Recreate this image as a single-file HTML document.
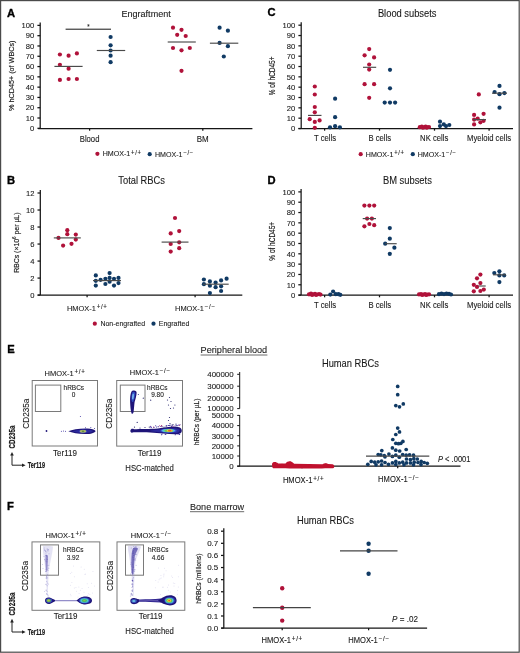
<!DOCTYPE html>
<html><head><meta charset="utf-8"><style>
html,body{margin:0;padding:0;background:#fff;}
svg{display:block;will-change:transform;}
text{font-family:"Liberation Sans", sans-serif;}
</style></head><body>
<svg width="520" height="653" viewBox="0 0 520 653">
<defs><filter id="blur1" x="-50%" y="-10%" width="200%" height="120%"><feGaussianBlur stdDeviation="0.7"/></filter></defs>
<rect x="0" y="0" width="520" height="653" fill="#fff"/>
<text x="6.90" y="16.60" font-size="11.20" text-anchor="start" font-weight="bold" fill="#000" stroke="#000" stroke-width="0.35">A</text>
<text x="121.50" y="16.90" font-size="9.77" text-anchor="start" font-weight="normal" fill="#1a1a1a" stroke="#1a1a1a" stroke-width="0.1" transform="matrix(0.92593,0,0,1,9.000,0)">Engraftment</text>
<line x1="40.20" y1="22.40" x2="40.20" y2="128.30" stroke="#151515" stroke-width="1.25"/>
<line x1="37.40" y1="128.30" x2="40.20" y2="128.30" stroke="#151515" stroke-width="1.25"/>
<text x="34.20" y="131.04" font-size="7.60" text-anchor="end" font-weight="normal" fill="#1a1a1a" stroke="#1a1a1a" stroke-width="0.1">0</text>
<line x1="37.40" y1="118.01" x2="40.20" y2="118.01" stroke="#151515" stroke-width="1.25"/>
<text x="34.20" y="120.75" font-size="7.60" text-anchor="end" font-weight="normal" fill="#1a1a1a" stroke="#1a1a1a" stroke-width="0.1">10</text>
<line x1="37.40" y1="107.72" x2="40.20" y2="107.72" stroke="#151515" stroke-width="1.25"/>
<text x="34.20" y="110.46" font-size="7.60" text-anchor="end" font-weight="normal" fill="#1a1a1a" stroke="#1a1a1a" stroke-width="0.1">20</text>
<line x1="37.40" y1="97.43" x2="40.20" y2="97.43" stroke="#151515" stroke-width="1.25"/>
<text x="34.20" y="100.17" font-size="7.60" text-anchor="end" font-weight="normal" fill="#1a1a1a" stroke="#1a1a1a" stroke-width="0.1">30</text>
<line x1="37.40" y1="87.14" x2="40.20" y2="87.14" stroke="#151515" stroke-width="1.25"/>
<text x="34.20" y="89.88" font-size="7.60" text-anchor="end" font-weight="normal" fill="#1a1a1a" stroke="#1a1a1a" stroke-width="0.1">40</text>
<line x1="37.40" y1="76.85" x2="40.20" y2="76.85" stroke="#151515" stroke-width="1.25"/>
<text x="34.20" y="79.59" font-size="7.60" text-anchor="end" font-weight="normal" fill="#1a1a1a" stroke="#1a1a1a" stroke-width="0.1">50</text>
<line x1="37.40" y1="66.56" x2="40.20" y2="66.56" stroke="#151515" stroke-width="1.25"/>
<text x="34.20" y="69.30" font-size="7.60" text-anchor="end" font-weight="normal" fill="#1a1a1a" stroke="#1a1a1a" stroke-width="0.1">60</text>
<line x1="37.40" y1="56.27" x2="40.20" y2="56.27" stroke="#151515" stroke-width="1.25"/>
<text x="34.20" y="59.01" font-size="7.60" text-anchor="end" font-weight="normal" fill="#1a1a1a" stroke="#1a1a1a" stroke-width="0.1">70</text>
<line x1="37.40" y1="45.98" x2="40.20" y2="45.98" stroke="#151515" stroke-width="1.25"/>
<text x="34.20" y="48.72" font-size="7.60" text-anchor="end" font-weight="normal" fill="#1a1a1a" stroke="#1a1a1a" stroke-width="0.1">80</text>
<line x1="37.40" y1="35.69" x2="40.20" y2="35.69" stroke="#151515" stroke-width="1.25"/>
<text x="34.20" y="38.43" font-size="7.60" text-anchor="end" font-weight="normal" fill="#1a1a1a" stroke="#1a1a1a" stroke-width="0.1">90</text>
<line x1="37.40" y1="25.40" x2="40.20" y2="25.40" stroke="#151515" stroke-width="1.25"/>
<text x="34.20" y="28.14" font-size="7.60" text-anchor="end" font-weight="normal" fill="#1a1a1a" stroke="#1a1a1a" stroke-width="0.1">100</text>
<line x1="38.20" y1="128.50" x2="252.40" y2="128.50" stroke="#151515" stroke-width="1.25"/>
<line x1="89.60" y1="128.50" x2="89.60" y2="130.70" stroke="#151515" stroke-width="1.25"/>
<line x1="202.80" y1="128.50" x2="202.80" y2="130.70" stroke="#151515" stroke-width="1.25"/>
<text x="89.60" y="141.80" font-size="8.32" text-anchor="middle" font-weight="normal" fill="#1a1a1a" stroke="#1a1a1a" stroke-width="0.1" transform="matrix(0.92593,0,0,1,6.637,0)">Blood</text>
<text x="202.70" y="141.60" font-size="8.64" text-anchor="middle" font-weight="normal" fill="#1a1a1a" stroke="#1a1a1a" stroke-width="0.1" transform="matrix(0.92593,0,0,1,15.015,0)">BM</text>
<text x="13.60" y="75.75" font-size="7.80" text-anchor="middle" font-weight="normal" fill="#1a1a1a" stroke="#222" stroke-width="0.18" textLength="70.5" lengthAdjust="spacingAndGlyphs" transform="rotate(-90 13.60 75.75)">% hCD45+ (of WBCs)</text>
<line x1="65.60" y1="29.20" x2="111.00" y2="29.20" stroke="#151515" stroke-width="1.0"/>
<text x="88.50" y="28.60" font-size="6.48" text-anchor="middle" font-weight="normal" fill="#1a1a1a" stroke="#1a1a1a" stroke-width="0.1" transform="matrix(0.92593,0,0,1,6.556,0)">*</text>
<circle cx="59.90" cy="54.50" r="2.1" fill="#b0123a"/>
<circle cx="68.60" cy="55.70" r="2.1" fill="#b0123a"/>
<circle cx="76.90" cy="53.40" r="2.1" fill="#b0123a"/>
<circle cx="59.90" cy="64.80" r="2.1" fill="#b0123a"/>
<circle cx="68.60" cy="68.70" r="2.1" fill="#b0123a"/>
<circle cx="59.90" cy="79.90" r="2.1" fill="#b0123a"/>
<circle cx="68.60" cy="79.00" r="2.1" fill="#b0123a"/>
<circle cx="76.90" cy="79.00" r="2.1" fill="#b0123a"/>
<line x1="54.40" y1="66.40" x2="82.60" y2="66.40" stroke="#4a4a4a" stroke-width="1.15"/>
<circle cx="110.60" cy="37.00" r="2.1" fill="#103a64"/>
<circle cx="110.60" cy="45.30" r="2.1" fill="#103a64"/>
<circle cx="110.60" cy="50.50" r="2.1" fill="#103a64"/>
<circle cx="110.60" cy="55.70" r="2.1" fill="#103a64"/>
<circle cx="110.60" cy="62.20" r="2.1" fill="#103a64"/>
<line x1="96.80" y1="50.50" x2="125.20" y2="50.50" stroke="#4a4a4a" stroke-width="1.15"/>
<circle cx="173.00" cy="27.70" r="2.1" fill="#b0123a"/>
<circle cx="181.50" cy="29.80" r="2.1" fill="#b0123a"/>
<circle cx="177.20" cy="34.80" r="2.1" fill="#b0123a"/>
<circle cx="185.70" cy="36.00" r="2.1" fill="#b0123a"/>
<circle cx="173.00" cy="48.00" r="2.1" fill="#b0123a"/>
<circle cx="181.50" cy="50.30" r="2.1" fill="#b0123a"/>
<circle cx="189.80" cy="48.00" r="2.1" fill="#b0123a"/>
<circle cx="181.50" cy="70.80" r="2.1" fill="#b0123a"/>
<line x1="167.70" y1="42.00" x2="195.80" y2="42.00" stroke="#4a4a4a" stroke-width="1.15"/>
<circle cx="219.60" cy="27.70" r="2.1" fill="#103a64"/>
<circle cx="227.90" cy="30.70" r="2.1" fill="#103a64"/>
<circle cx="219.60" cy="42.90" r="2.1" fill="#103a64"/>
<circle cx="227.90" cy="46.20" r="2.1" fill="#103a64"/>
<circle cx="223.80" cy="56.50" r="2.1" fill="#103a64"/>
<line x1="209.90" y1="43.20" x2="238.30" y2="43.20" stroke="#4a4a4a" stroke-width="1.15"/>
<circle cx="97.40" cy="153.80" r="2.1" fill="#b0123a"/>
<text x="102.70" y="156.40" font-size="7.67" text-anchor="start" font-weight="normal" fill="#1a1a1a" stroke="#1a1a1a" stroke-width="0.1" transform="matrix(0.92593,0,0,1,7.607,0)">HMOX-1<tspan font-size="6.29" dx="0.9" dy="-1.85" letter-spacing="0.75">+/+</tspan></text>
<circle cx="149.70" cy="154.20" r="2.1" fill="#103a64"/>
<text x="155.00" y="156.60" font-size="7.67" text-anchor="start" font-weight="normal" fill="#1a1a1a" stroke="#1a1a1a" stroke-width="0.1" transform="matrix(0.92593,0,0,1,11.481,0)">HMOX-1<tspan font-size="6.29" dx="0.9" dy="-1.85" letter-spacing="0.75">−/−</tspan></text>
<text x="267.60" y="16.30" font-size="11.20" text-anchor="start" font-weight="bold" fill="#000" stroke="#000" stroke-width="0.35">C</text>
<text x="377.90" y="16.90" font-size="10.08" text-anchor="start" font-weight="normal" fill="#1a1a1a" stroke="#1a1a1a" stroke-width="0.1" transform="matrix(0.92593,0,0,1,27.993,0)">Blood subsets</text>
<line x1="301.20" y1="22.20" x2="301.20" y2="128.50" stroke="#151515" stroke-width="1.25"/>
<line x1="298.40" y1="128.50" x2="301.20" y2="128.50" stroke="#151515" stroke-width="1.25"/>
<text x="295.20" y="131.24" font-size="7.60" text-anchor="end" font-weight="normal" fill="#1a1a1a" stroke="#1a1a1a" stroke-width="0.1">0</text>
<line x1="298.40" y1="118.17" x2="301.20" y2="118.17" stroke="#151515" stroke-width="1.25"/>
<text x="295.20" y="120.91" font-size="7.60" text-anchor="end" font-weight="normal" fill="#1a1a1a" stroke="#1a1a1a" stroke-width="0.1">10</text>
<line x1="298.40" y1="107.84" x2="301.20" y2="107.84" stroke="#151515" stroke-width="1.25"/>
<text x="295.20" y="110.58" font-size="7.60" text-anchor="end" font-weight="normal" fill="#1a1a1a" stroke="#1a1a1a" stroke-width="0.1">20</text>
<line x1="298.40" y1="97.51" x2="301.20" y2="97.51" stroke="#151515" stroke-width="1.25"/>
<text x="295.20" y="100.25" font-size="7.60" text-anchor="end" font-weight="normal" fill="#1a1a1a" stroke="#1a1a1a" stroke-width="0.1">30</text>
<line x1="298.40" y1="87.18" x2="301.20" y2="87.18" stroke="#151515" stroke-width="1.25"/>
<text x="295.20" y="89.92" font-size="7.60" text-anchor="end" font-weight="normal" fill="#1a1a1a" stroke="#1a1a1a" stroke-width="0.1">40</text>
<line x1="298.40" y1="76.85" x2="301.20" y2="76.85" stroke="#151515" stroke-width="1.25"/>
<text x="295.20" y="79.59" font-size="7.60" text-anchor="end" font-weight="normal" fill="#1a1a1a" stroke="#1a1a1a" stroke-width="0.1">50</text>
<line x1="298.40" y1="66.52" x2="301.20" y2="66.52" stroke="#151515" stroke-width="1.25"/>
<text x="295.20" y="69.26" font-size="7.60" text-anchor="end" font-weight="normal" fill="#1a1a1a" stroke="#1a1a1a" stroke-width="0.1">60</text>
<line x1="298.40" y1="56.19" x2="301.20" y2="56.19" stroke="#151515" stroke-width="1.25"/>
<text x="295.20" y="58.93" font-size="7.60" text-anchor="end" font-weight="normal" fill="#1a1a1a" stroke="#1a1a1a" stroke-width="0.1">70</text>
<line x1="298.40" y1="45.86" x2="301.20" y2="45.86" stroke="#151515" stroke-width="1.25"/>
<text x="295.20" y="48.60" font-size="7.60" text-anchor="end" font-weight="normal" fill="#1a1a1a" stroke="#1a1a1a" stroke-width="0.1">80</text>
<line x1="298.40" y1="35.53" x2="301.20" y2="35.53" stroke="#151515" stroke-width="1.25"/>
<text x="295.20" y="38.27" font-size="7.60" text-anchor="end" font-weight="normal" fill="#1a1a1a" stroke="#1a1a1a" stroke-width="0.1">90</text>
<line x1="298.40" y1="25.20" x2="301.20" y2="25.20" stroke="#151515" stroke-width="1.25"/>
<text x="295.20" y="27.94" font-size="7.60" text-anchor="end" font-weight="normal" fill="#1a1a1a" stroke="#1a1a1a" stroke-width="0.1">100</text>
<line x1="298.50" y1="128.50" x2="513.00" y2="128.50" stroke="#151515" stroke-width="1.25"/>
<line x1="324.60" y1="128.50" x2="324.60" y2="130.70" stroke="#151515" stroke-width="1.25"/>
<line x1="379.50" y1="128.50" x2="379.50" y2="130.70" stroke="#151515" stroke-width="1.25"/>
<line x1="434.50" y1="128.50" x2="434.50" y2="130.70" stroke="#151515" stroke-width="1.25"/>
<line x1="489.10" y1="128.50" x2="489.10" y2="130.70" stroke="#151515" stroke-width="1.25"/>
<text x="325.00" y="141.50" font-size="8.32" text-anchor="middle" font-weight="normal" fill="#1a1a1a" stroke="#1a1a1a" stroke-width="0.1" transform="matrix(0.92593,0,0,1,24.074,0)">T cells</text>
<text x="379.80" y="141.50" font-size="8.32" text-anchor="middle" font-weight="normal" fill="#1a1a1a" stroke="#1a1a1a" stroke-width="0.1" transform="matrix(0.92593,0,0,1,28.133,0)">B cells</text>
<text x="434.20" y="141.50" font-size="8.32" text-anchor="middle" font-weight="normal" fill="#1a1a1a" stroke="#1a1a1a" stroke-width="0.1" transform="matrix(0.92593,0,0,1,32.163,0)">NK cells</text>
<text x="489.00" y="141.50" font-size="8.32" text-anchor="middle" font-weight="normal" fill="#1a1a1a" stroke="#1a1a1a" stroke-width="0.1" transform="matrix(0.92593,0,0,1,36.222,0)">Myeloid cells</text>
<text x="275.20" y="75.85" font-size="8.30" text-anchor="middle" font-weight="normal" fill="#1a1a1a" stroke="#222" stroke-width="0.18" textLength="38.7" lengthAdjust="spacingAndGlyphs" transform="rotate(-90 275.20 75.85)">% of hCD45+</text>
<circle cx="314.80" cy="86.50" r="2.1" fill="#b0123a"/>
<circle cx="314.80" cy="94.50" r="2.1" fill="#b0123a"/>
<circle cx="314.80" cy="107.00" r="2.1" fill="#b0123a"/>
<circle cx="314.80" cy="112.30" r="2.1" fill="#b0123a"/>
<circle cx="309.70" cy="119.20" r="2.1" fill="#b0123a"/>
<circle cx="319.60" cy="120.40" r="2.1" fill="#b0123a"/>
<circle cx="314.80" cy="121.90" r="2.1" fill="#b0123a"/>
<circle cx="314.80" cy="127.80" r="2.1" fill="#b0123a"/>
<line x1="308.00" y1="115.40" x2="321.50" y2="115.40" stroke="#4a4a4a" stroke-width="1.15"/>
<circle cx="335.10" cy="98.70" r="2.1" fill="#103a64"/>
<circle cx="335.10" cy="117.20" r="2.1" fill="#103a64"/>
<circle cx="330.00" cy="127.30" r="2.1" fill="#103a64"/>
<circle cx="335.10" cy="126.20" r="2.1" fill="#103a64"/>
<circle cx="339.90" cy="127.30" r="2.1" fill="#103a64"/>
<circle cx="369.20" cy="49.10" r="2.1" fill="#b0123a"/>
<circle cx="364.60" cy="55.30" r="2.1" fill="#b0123a"/>
<circle cx="374.10" cy="57.40" r="2.1" fill="#b0123a"/>
<circle cx="369.20" cy="64.50" r="2.1" fill="#b0123a"/>
<circle cx="369.20" cy="69.60" r="2.1" fill="#b0123a"/>
<circle cx="364.60" cy="84.20" r="2.1" fill="#b0123a"/>
<circle cx="374.10" cy="84.20" r="2.1" fill="#b0123a"/>
<circle cx="369.20" cy="97.80" r="2.1" fill="#b0123a"/>
<line x1="363.00" y1="67.30" x2="376.20" y2="67.30" stroke="#4a4a4a" stroke-width="1.15"/>
<circle cx="390.00" cy="69.80" r="2.1" fill="#103a64"/>
<circle cx="390.00" cy="88.30" r="2.1" fill="#103a64"/>
<circle cx="384.70" cy="102.60" r="2.1" fill="#103a64"/>
<circle cx="390.00" cy="102.60" r="2.1" fill="#103a64"/>
<circle cx="395.10" cy="102.60" r="2.1" fill="#103a64"/>
<circle cx="419.80" cy="127.20" r="2.1" fill="#b0123a"/>
<circle cx="421.80" cy="126.60" r="2.1" fill="#b0123a"/>
<circle cx="423.80" cy="127.40" r="2.1" fill="#b0123a"/>
<circle cx="425.60" cy="126.70" r="2.1" fill="#b0123a"/>
<circle cx="427.40" cy="127.30" r="2.1" fill="#b0123a"/>
<circle cx="429.00" cy="127.00" r="2.1" fill="#b0123a"/>
<circle cx="422.60" cy="127.60" r="2.1" fill="#b0123a"/>
<circle cx="426.50" cy="127.60" r="2.1" fill="#b0123a"/>
<circle cx="440.00" cy="121.70" r="2.1" fill="#103a64"/>
<circle cx="440.00" cy="126.10" r="2.1" fill="#103a64"/>
<circle cx="443.80" cy="124.40" r="2.1" fill="#103a64"/>
<circle cx="446.00" cy="126.10" r="2.1" fill="#103a64"/>
<circle cx="449.30" cy="125.00" r="2.1" fill="#103a64"/>
<circle cx="478.80" cy="94.40" r="2.1" fill="#b0123a"/>
<circle cx="474.10" cy="114.90" r="2.1" fill="#b0123a"/>
<circle cx="483.60" cy="113.80" r="2.1" fill="#b0123a"/>
<circle cx="474.10" cy="119.60" r="2.1" fill="#b0123a"/>
<circle cx="477.70" cy="118.70" r="2.1" fill="#b0123a"/>
<circle cx="483.60" cy="120.80" r="2.1" fill="#b0123a"/>
<circle cx="480.40" cy="122.30" r="2.1" fill="#b0123a"/>
<circle cx="474.10" cy="124.40" r="2.1" fill="#b0123a"/>
<line x1="473.00" y1="119.60" x2="486.00" y2="119.60" stroke="#4a4a4a" stroke-width="1.15"/>
<circle cx="499.50" cy="85.90" r="2.1" fill="#103a64"/>
<circle cx="494.60" cy="92.00" r="2.1" fill="#103a64"/>
<circle cx="499.50" cy="94.20" r="2.1" fill="#103a64"/>
<circle cx="504.40" cy="93.10" r="2.1" fill="#103a64"/>
<circle cx="499.50" cy="107.70" r="2.1" fill="#103a64"/>
<line x1="492.00" y1="93.20" x2="507.00" y2="93.20" stroke="#4a4a4a" stroke-width="1.15"/>
<circle cx="360.70" cy="154.20" r="2.1" fill="#b0123a"/>
<text x="365.80" y="156.60" font-size="7.67" text-anchor="start" font-weight="normal" fill="#1a1a1a" stroke="#1a1a1a" stroke-width="0.1" transform="matrix(0.92593,0,0,1,27.096,0)">HMOX-1<tspan font-size="6.29" dx="0.9" dy="-1.85" letter-spacing="0.75">+/+</tspan></text>
<circle cx="412.80" cy="154.20" r="2.1" fill="#103a64"/>
<text x="417.70" y="156.60" font-size="7.67" text-anchor="start" font-weight="normal" fill="#1a1a1a" stroke="#1a1a1a" stroke-width="0.1" transform="matrix(0.92593,0,0,1,30.941,0)">HMOX-1<tspan font-size="6.29" dx="0.9" dy="-1.85" letter-spacing="0.75">−/−</tspan></text>
<text x="6.90" y="183.60" font-size="11.20" text-anchor="start" font-weight="bold" fill="#000" stroke="#000" stroke-width="0.35">B</text>
<text x="118.30" y="184.00" font-size="10.09" text-anchor="start" font-weight="normal" fill="#1a1a1a" stroke="#1a1a1a" stroke-width="0.1" transform="matrix(0.92593,0,0,1,8.763,0)">Total RBCs</text>
<line x1="40.30" y1="190.00" x2="40.30" y2="295.10" stroke="#151515" stroke-width="1.25"/>
<line x1="37.50" y1="295.10" x2="40.30" y2="295.10" stroke="#151515" stroke-width="1.25"/>
<text x="34.50" y="297.84" font-size="7.60" text-anchor="end" font-weight="normal" fill="#1a1a1a" stroke="#1a1a1a" stroke-width="0.1">0</text>
<line x1="37.50" y1="278.08" x2="40.30" y2="278.08" stroke="#151515" stroke-width="1.25"/>
<text x="34.50" y="280.82" font-size="7.60" text-anchor="end" font-weight="normal" fill="#1a1a1a" stroke="#1a1a1a" stroke-width="0.1">2</text>
<line x1="37.50" y1="261.07" x2="40.30" y2="261.07" stroke="#151515" stroke-width="1.25"/>
<text x="34.50" y="263.80" font-size="7.60" text-anchor="end" font-weight="normal" fill="#1a1a1a" stroke="#1a1a1a" stroke-width="0.1">4</text>
<line x1="37.50" y1="244.05" x2="40.30" y2="244.05" stroke="#151515" stroke-width="1.25"/>
<text x="34.50" y="246.79" font-size="7.60" text-anchor="end" font-weight="normal" fill="#1a1a1a" stroke="#1a1a1a" stroke-width="0.1">6</text>
<line x1="37.50" y1="227.03" x2="40.30" y2="227.03" stroke="#151515" stroke-width="1.25"/>
<text x="34.50" y="229.77" font-size="7.60" text-anchor="end" font-weight="normal" fill="#1a1a1a" stroke="#1a1a1a" stroke-width="0.1">8</text>
<line x1="37.50" y1="210.02" x2="40.30" y2="210.02" stroke="#151515" stroke-width="1.25"/>
<text x="34.50" y="212.75" font-size="7.60" text-anchor="end" font-weight="normal" fill="#1a1a1a" stroke="#1a1a1a" stroke-width="0.1">10</text>
<line x1="37.50" y1="193.00" x2="40.30" y2="193.00" stroke="#151515" stroke-width="1.25"/>
<text x="34.50" y="195.74" font-size="7.60" text-anchor="end" font-weight="normal" fill="#1a1a1a" stroke="#1a1a1a" stroke-width="0.1">12</text>
<line x1="37.70" y1="295.10" x2="242.30" y2="295.10" stroke="#151515" stroke-width="1.25"/>
<line x1="87.10" y1="295.10" x2="87.10" y2="297.30" stroke="#151515" stroke-width="1.25"/>
<line x1="195.10" y1="295.10" x2="195.10" y2="297.30" stroke="#151515" stroke-width="1.25"/>
<text x="66.90" y="311.20" font-size="8.05" text-anchor="start" font-weight="normal" fill="#1a1a1a" stroke="#1a1a1a" stroke-width="0.1" transform="matrix(0.92593,0,0,1,4.956,0)">HMOX-1<tspan font-size="6.60" dx="0.9" dy="-1.94" letter-spacing="0.75">+/+</tspan></text>
<text x="175.00" y="311.20" font-size="8.05" text-anchor="start" font-weight="normal" fill="#1a1a1a" stroke="#1a1a1a" stroke-width="0.1" transform="matrix(0.92593,0,0,1,12.963,0)">HMOX-1<tspan font-size="6.60" dx="0.9" dy="-1.94" letter-spacing="0.75">−/−</tspan></text>
<text x="18.60" y="242.65" font-size="7.90" text-anchor="middle" font-weight="normal" fill="#1a1a1a" stroke="#222" stroke-width="0.18" textLength="60.3" lengthAdjust="spacingAndGlyphs" transform="rotate(-90 18.60 242.65)">RBCs (×10<tspan font-size="5.2" dy="-2.8">6</tspan><tspan dy="2.8"> per µL)</tspan></text>
<circle cx="67.30" cy="230.20" r="2.1" fill="#b0123a"/>
<circle cx="67.30" cy="234.20" r="2.1" fill="#b0123a"/>
<circle cx="58.50" cy="237.90" r="2.1" fill="#b0123a"/>
<circle cx="75.80" cy="234.60" r="2.1" fill="#b0123a"/>
<circle cx="75.80" cy="239.60" r="2.1" fill="#b0123a"/>
<circle cx="63.10" cy="245.60" r="2.1" fill="#b0123a"/>
<circle cx="71.50" cy="243.80" r="2.1" fill="#b0123a"/>
<line x1="53.80" y1="237.90" x2="80.80" y2="237.90" stroke="#4a4a4a" stroke-width="1.15"/>
<circle cx="95.80" cy="275.40" r="2.1" fill="#103a64"/>
<circle cx="95.80" cy="280.80" r="2.1" fill="#103a64"/>
<circle cx="95.80" cy="285.60" r="2.1" fill="#103a64"/>
<circle cx="100.60" cy="279.80" r="2.1" fill="#103a64"/>
<circle cx="105.40" cy="278.80" r="2.1" fill="#103a64"/>
<circle cx="105.40" cy="284.00" r="2.1" fill="#103a64"/>
<circle cx="109.60" cy="273.10" r="2.1" fill="#103a64"/>
<circle cx="109.60" cy="277.90" r="2.1" fill="#103a64"/>
<circle cx="109.60" cy="281.70" r="2.1" fill="#103a64"/>
<circle cx="114.00" cy="278.80" r="2.1" fill="#103a64"/>
<circle cx="114.00" cy="285.60" r="2.1" fill="#103a64"/>
<circle cx="118.50" cy="277.90" r="2.1" fill="#103a64"/>
<circle cx="118.50" cy="283.10" r="2.1" fill="#103a64"/>
<line x1="93.00" y1="280.60" x2="121.00" y2="280.60" stroke="#4a4a4a" stroke-width="1.15"/>
<circle cx="175.00" cy="218.00" r="2.1" fill="#b0123a"/>
<circle cx="170.70" cy="233.40" r="2.1" fill="#b0123a"/>
<circle cx="179.20" cy="231.10" r="2.1" fill="#b0123a"/>
<circle cx="170.70" cy="244.00" r="2.1" fill="#b0123a"/>
<circle cx="179.20" cy="242.30" r="2.1" fill="#b0123a"/>
<circle cx="170.70" cy="251.60" r="2.1" fill="#b0123a"/>
<circle cx="179.20" cy="248.20" r="2.1" fill="#b0123a"/>
<line x1="161.60" y1="242.10" x2="188.50" y2="242.10" stroke="#4a4a4a" stroke-width="1.15"/>
<circle cx="203.90" cy="279.50" r="2.1" fill="#103a64"/>
<circle cx="203.90" cy="284.20" r="2.1" fill="#103a64"/>
<circle cx="209.90" cy="281.40" r="2.1" fill="#103a64"/>
<circle cx="209.90" cy="285.70" r="2.1" fill="#103a64"/>
<circle cx="209.90" cy="293.10" r="2.1" fill="#103a64"/>
<circle cx="215.60" cy="282.50" r="2.1" fill="#103a64"/>
<circle cx="215.60" cy="287.20" r="2.1" fill="#103a64"/>
<circle cx="221.10" cy="280.40" r="2.1" fill="#103a64"/>
<circle cx="221.10" cy="286.30" r="2.1" fill="#103a64"/>
<circle cx="221.10" cy="291.00" r="2.1" fill="#103a64"/>
<circle cx="226.60" cy="278.70" r="2.1" fill="#103a64"/>
<line x1="202.90" y1="284.20" x2="228.70" y2="284.20" stroke="#4a4a4a" stroke-width="1.15"/>
<circle cx="94.80" cy="323.70" r="2.1" fill="#b0123a"/>
<text x="100.40" y="326.10" font-size="7.56" text-anchor="start" font-weight="normal" fill="#1a1a1a" stroke="#1a1a1a" stroke-width="0.1" transform="matrix(0.92593,0,0,1,7.437,0)">Non-engrafted</text>
<circle cx="153.50" cy="323.70" r="2.1" fill="#103a64"/>
<text x="158.70" y="326.10" font-size="7.65" text-anchor="start" font-weight="normal" fill="#1a1a1a" stroke="#1a1a1a" stroke-width="0.1" transform="matrix(0.92593,0,0,1,11.756,0)">Engrafted</text>
<text x="267.60" y="183.60" font-size="11.20" text-anchor="start" font-weight="bold" fill="#000" stroke="#000" stroke-width="0.35">D</text>
<text x="382.90" y="184.20" font-size="10.13" text-anchor="start" font-weight="normal" fill="#1a1a1a" stroke="#1a1a1a" stroke-width="0.1" transform="matrix(0.92593,0,0,1,28.363,0)">BM subsets</text>
<line x1="301.10" y1="188.90" x2="301.10" y2="295.10" stroke="#151515" stroke-width="1.25"/>
<line x1="298.30" y1="295.10" x2="301.10" y2="295.10" stroke="#151515" stroke-width="1.25"/>
<text x="295.20" y="297.84" font-size="7.60" text-anchor="end" font-weight="normal" fill="#1a1a1a" stroke="#1a1a1a" stroke-width="0.1">0</text>
<line x1="298.30" y1="284.78" x2="301.10" y2="284.78" stroke="#151515" stroke-width="1.25"/>
<text x="295.20" y="287.52" font-size="7.60" text-anchor="end" font-weight="normal" fill="#1a1a1a" stroke="#1a1a1a" stroke-width="0.1">10</text>
<line x1="298.30" y1="274.46" x2="301.10" y2="274.46" stroke="#151515" stroke-width="1.25"/>
<text x="295.20" y="277.20" font-size="7.60" text-anchor="end" font-weight="normal" fill="#1a1a1a" stroke="#1a1a1a" stroke-width="0.1">20</text>
<line x1="298.30" y1="264.14" x2="301.10" y2="264.14" stroke="#151515" stroke-width="1.25"/>
<text x="295.20" y="266.88" font-size="7.60" text-anchor="end" font-weight="normal" fill="#1a1a1a" stroke="#1a1a1a" stroke-width="0.1">30</text>
<line x1="298.30" y1="253.82" x2="301.10" y2="253.82" stroke="#151515" stroke-width="1.25"/>
<text x="295.20" y="256.56" font-size="7.60" text-anchor="end" font-weight="normal" fill="#1a1a1a" stroke="#1a1a1a" stroke-width="0.1">40</text>
<line x1="298.30" y1="243.50" x2="301.10" y2="243.50" stroke="#151515" stroke-width="1.25"/>
<text x="295.20" y="246.24" font-size="7.60" text-anchor="end" font-weight="normal" fill="#1a1a1a" stroke="#1a1a1a" stroke-width="0.1">50</text>
<line x1="298.30" y1="233.18" x2="301.10" y2="233.18" stroke="#151515" stroke-width="1.25"/>
<text x="295.20" y="235.92" font-size="7.60" text-anchor="end" font-weight="normal" fill="#1a1a1a" stroke="#1a1a1a" stroke-width="0.1">60</text>
<line x1="298.30" y1="222.86" x2="301.10" y2="222.86" stroke="#151515" stroke-width="1.25"/>
<text x="295.20" y="225.60" font-size="7.60" text-anchor="end" font-weight="normal" fill="#1a1a1a" stroke="#1a1a1a" stroke-width="0.1">70</text>
<line x1="298.30" y1="212.54" x2="301.10" y2="212.54" stroke="#151515" stroke-width="1.25"/>
<text x="295.20" y="215.28" font-size="7.60" text-anchor="end" font-weight="normal" fill="#1a1a1a" stroke="#1a1a1a" stroke-width="0.1">80</text>
<line x1="298.30" y1="202.22" x2="301.10" y2="202.22" stroke="#151515" stroke-width="1.25"/>
<text x="295.20" y="204.96" font-size="7.60" text-anchor="end" font-weight="normal" fill="#1a1a1a" stroke="#1a1a1a" stroke-width="0.1">90</text>
<line x1="298.30" y1="191.90" x2="301.10" y2="191.90" stroke="#151515" stroke-width="1.25"/>
<text x="295.20" y="194.64" font-size="7.60" text-anchor="end" font-weight="normal" fill="#1a1a1a" stroke="#1a1a1a" stroke-width="0.1">100</text>
<line x1="298.50" y1="295.10" x2="513.00" y2="295.10" stroke="#151515" stroke-width="1.25"/>
<line x1="324.60" y1="295.10" x2="324.60" y2="297.30" stroke="#151515" stroke-width="1.25"/>
<line x1="379.50" y1="295.10" x2="379.50" y2="297.30" stroke="#151515" stroke-width="1.25"/>
<line x1="434.50" y1="295.10" x2="434.50" y2="297.30" stroke="#151515" stroke-width="1.25"/>
<line x1="489.10" y1="295.10" x2="489.10" y2="297.30" stroke="#151515" stroke-width="1.25"/>
<text x="325.00" y="308.20" font-size="8.32" text-anchor="middle" font-weight="normal" fill="#1a1a1a" stroke="#1a1a1a" stroke-width="0.1" transform="matrix(0.92593,0,0,1,24.074,0)">T cells</text>
<text x="379.80" y="308.20" font-size="8.32" text-anchor="middle" font-weight="normal" fill="#1a1a1a" stroke="#1a1a1a" stroke-width="0.1" transform="matrix(0.92593,0,0,1,28.133,0)">B cells</text>
<text x="434.20" y="308.20" font-size="8.32" text-anchor="middle" font-weight="normal" fill="#1a1a1a" stroke="#1a1a1a" stroke-width="0.1" transform="matrix(0.92593,0,0,1,32.163,0)">NK cells</text>
<text x="489.00" y="308.20" font-size="8.32" text-anchor="middle" font-weight="normal" fill="#1a1a1a" stroke="#1a1a1a" stroke-width="0.1" transform="matrix(0.92593,0,0,1,36.222,0)">Myeloid cells</text>
<text x="275.20" y="241.30" font-size="8.30" text-anchor="middle" font-weight="normal" fill="#1a1a1a" stroke="#222" stroke-width="0.18" textLength="38.7" lengthAdjust="spacingAndGlyphs" transform="rotate(-90 275.20 241.30)">% of hCD45+</text>
<circle cx="309.00" cy="294.30" r="2.1" fill="#b0123a"/>
<circle cx="311.00" cy="293.60" r="2.1" fill="#b0123a"/>
<circle cx="313.00" cy="294.40" r="2.1" fill="#b0123a"/>
<circle cx="315.00" cy="293.80" r="2.1" fill="#b0123a"/>
<circle cx="317.00" cy="294.50" r="2.1" fill="#b0123a"/>
<circle cx="319.00" cy="294.10" r="2.1" fill="#b0123a"/>
<circle cx="320.50" cy="294.60" r="2.1" fill="#b0123a"/>
<circle cx="312.00" cy="295.00" r="2.1" fill="#b0123a"/>
<circle cx="316.00" cy="295.00" r="2.1" fill="#b0123a"/>
<circle cx="330.30" cy="294.60" r="2.1" fill="#103a64"/>
<circle cx="333.10" cy="291.50" r="2.1" fill="#103a64"/>
<circle cx="335.80" cy="294.20" r="2.1" fill="#103a64"/>
<circle cx="338.50" cy="294.20" r="2.1" fill="#103a64"/>
<circle cx="340.30" cy="294.80" r="2.1" fill="#103a64"/>
<circle cx="364.40" cy="205.60" r="2.1" fill="#b0123a"/>
<circle cx="369.40" cy="205.60" r="2.1" fill="#b0123a"/>
<circle cx="374.20" cy="205.60" r="2.1" fill="#b0123a"/>
<circle cx="367.10" cy="218.60" r="2.1" fill="#b0123a"/>
<circle cx="371.90" cy="218.60" r="2.1" fill="#b0123a"/>
<circle cx="364.40" cy="226.30" r="2.1" fill="#b0123a"/>
<circle cx="369.40" cy="224.00" r="2.1" fill="#b0123a"/>
<circle cx="374.20" cy="225.20" r="2.1" fill="#b0123a"/>
<line x1="362.70" y1="218.60" x2="376.00" y2="218.60" stroke="#4a4a4a" stroke-width="1.15"/>
<circle cx="389.80" cy="228.10" r="2.1" fill="#103a64"/>
<circle cx="389.80" cy="238.70" r="2.1" fill="#103a64"/>
<circle cx="385.20" cy="243.70" r="2.1" fill="#103a64"/>
<circle cx="394.40" cy="247.70" r="2.1" fill="#103a64"/>
<circle cx="389.80" cy="253.80" r="2.1" fill="#103a64"/>
<line x1="385.20" y1="243.70" x2="396.70" y2="243.70" stroke="#4a4a4a" stroke-width="1.15"/>
<circle cx="419.00" cy="294.40" r="2.1" fill="#b0123a"/>
<circle cx="421.00" cy="294.00" r="2.1" fill="#b0123a"/>
<circle cx="423.00" cy="294.60" r="2.1" fill="#b0123a"/>
<circle cx="425.00" cy="294.10" r="2.1" fill="#b0123a"/>
<circle cx="427.00" cy="294.60" r="2.1" fill="#b0123a"/>
<circle cx="429.00" cy="294.30" r="2.1" fill="#b0123a"/>
<circle cx="422.00" cy="295.00" r="2.1" fill="#b0123a"/>
<circle cx="426.00" cy="295.00" r="2.1" fill="#b0123a"/>
<circle cx="439.00" cy="294.20" r="2.1" fill="#103a64"/>
<circle cx="441.50" cy="293.60" r="2.1" fill="#103a64"/>
<circle cx="444.00" cy="294.10" r="2.1" fill="#103a64"/>
<circle cx="446.50" cy="293.50" r="2.1" fill="#103a64"/>
<circle cx="449.00" cy="293.90" r="2.1" fill="#103a64"/>
<circle cx="451.00" cy="294.50" r="2.1" fill="#103a64"/>
<circle cx="480.40" cy="274.60" r="2.1" fill="#b0123a"/>
<circle cx="477.00" cy="278.30" r="2.1" fill="#b0123a"/>
<circle cx="480.40" cy="283.10" r="2.1" fill="#b0123a"/>
<circle cx="473.80" cy="284.80" r="2.1" fill="#b0123a"/>
<circle cx="477.00" cy="286.90" r="2.1" fill="#b0123a"/>
<circle cx="483.80" cy="289.60" r="2.1" fill="#b0123a"/>
<circle cx="473.80" cy="291.30" r="2.1" fill="#b0123a"/>
<circle cx="480.40" cy="291.00" r="2.1" fill="#b0123a"/>
<line x1="478.50" y1="286.00" x2="485.70" y2="286.00" stroke="#4a4a4a" stroke-width="1.15"/>
<circle cx="494.30" cy="273.00" r="2.1" fill="#103a64"/>
<circle cx="499.40" cy="271.30" r="2.1" fill="#103a64"/>
<circle cx="499.40" cy="275.40" r="2.1" fill="#103a64"/>
<circle cx="504.20" cy="275.40" r="2.1" fill="#103a64"/>
<circle cx="499.40" cy="282.10" r="2.1" fill="#103a64"/>
<line x1="493.00" y1="274.80" x2="506.00" y2="274.80" stroke="#4a4a4a" stroke-width="1.15"/>
<text x="7.20" y="352.80" font-size="11.20" text-anchor="start" font-weight="bold" fill="#000" stroke="#000" stroke-width="0.35">E</text>
<text x="44.60" y="375.80" font-size="8.10" text-anchor="start" font-weight="normal" fill="#1a1a1a" stroke="#1a1a1a" stroke-width="0.1" transform="matrix(0.92593,0,0,1,3.304,0)">HMOX-1<tspan font-size="6.64" dx="0.9" dy="-1.95" letter-spacing="0.75">+/+</tspan></text>
<rect x="32.20" y="380.50" width="65.30" height="65.50" fill="none" stroke="#7a7a7a" stroke-width="1.0"/>
<rect x="35.40" y="385.10" width="25.40" height="26.40" fill="none" stroke="#7a7a7a" stroke-width="1.0"/>
<text x="73.80" y="389.90" font-size="7.02" text-anchor="middle" font-weight="normal" fill="#1a1a1a" stroke="#1a1a1a" stroke-width="0.1" transform="matrix(0.92593,0,0,1,5.467,0)">hRBCs</text>
<text x="73.60" y="397.30" font-size="7.02" text-anchor="middle" font-weight="normal" fill="#1a1a1a" stroke="#1a1a1a" stroke-width="0.1" transform="matrix(0.92593,0,0,1,5.452,0)">0</text>
<text x="28.60" y="413.60" font-size="8.20" text-anchor="middle" font-weight="normal" fill="#1a1a1a" stroke="#1a1a1a" stroke-width="0.1" transform="rotate(-90 28.60 413.60)">CD235a</text>
<text x="65.00" y="456.20" font-size="8.64" text-anchor="middle" font-weight="normal" fill="#1a1a1a" stroke="#1a1a1a" stroke-width="0.1" transform="matrix(0.92593,0,0,1,4.815,0)">Ter119</text>
<path d="M68.3,431.3 C72,429.8 78,428.6 86,428.5 C91,428.3 94.5,429.3 95.6,430.9 C95,432.8 91,434.1 85,434.1 C78,434 72,432.9 68.3,431.3 Z" fill="#1e1478" fill-opacity="1.0" stroke="none" stroke-width="0"/>
<path d="M72,431.2 C76,430.2 81,429.5 86,429.5 C90,429.6 92.5,430.3 93.2,431.0 C92.5,432.2 89.5,433.0 85,433.0 C79,433 75,432.2 72,431.2 Z" fill="#2c2a9e" fill-opacity="1.0" stroke="none" stroke-width="0"/>
<ellipse cx="83.00" cy="431.30" rx="3.80" ry="1.60" fill="#4a5ab8" fill-opacity="1.0" transform="rotate(0 83.00 431.30)"/>
<ellipse cx="83.00" cy="431.30" rx="3.20" ry="1.25" fill="#b8c060" fill-opacity="1.0" transform="rotate(0 83.00 431.30)"/>
<ellipse cx="83.00" cy="431.30" rx="1.40" ry="0.70" fill="#5a8a40" fill-opacity="1.0" transform="rotate(0 83.00 431.30)"/>
<circle cx="46.50" cy="431.00" r="0.9" fill="#1e1478"/>
<circle cx="61.40" cy="431.30" r="0.5" fill="#3a30a0"/>
<circle cx="63.50" cy="431.00" r="0.5" fill="#3a30a0"/>
<circle cx="65.50" cy="431.20" r="0.5" fill="#3a30a0"/>
<circle cx="80.40" cy="416.40" r="0.5" fill="#3a30a0"/>
<circle cx="85.50" cy="427.80" r="0.5" fill="#3a30a0"/>
<circle cx="90.80" cy="427.40" r="0.5" fill="#3a30a0"/>
<circle cx="94.50" cy="428.40" r="0.5" fill="#3a30a0"/>
<text x="129.80" y="374.80" font-size="8.10" text-anchor="start" font-weight="normal" fill="#1a1a1a" stroke="#1a1a1a" stroke-width="0.1" transform="matrix(0.92593,0,0,1,9.615,0)">HMOX-1<tspan font-size="6.64" dx="0.9" dy="-1.95" letter-spacing="0.75">−/−</tspan></text>
<rect x="116.70" y="380.50" width="65.80" height="65.60" fill="none" stroke="#7a7a7a" stroke-width="1.0"/>
<rect x="120.30" y="385.10" width="24.70" height="26.40" fill="none" stroke="#7a7a7a" stroke-width="1.0"/>
<text x="157.30" y="390.30" font-size="7.02" text-anchor="middle" font-weight="normal" fill="#1a1a1a" stroke="#1a1a1a" stroke-width="0.1" transform="matrix(0.92593,0,0,1,11.652,0)">hRBCs</text>
<text x="157.50" y="397.30" font-size="7.02" text-anchor="middle" font-weight="normal" fill="#1a1a1a" stroke="#1a1a1a" stroke-width="0.1" transform="matrix(0.92593,0,0,1,11.667,0)">9.80</text>
<text x="112.30" y="413.60" font-size="8.20" text-anchor="middle" font-weight="normal" fill="#1a1a1a" stroke="#1a1a1a" stroke-width="0.1" transform="rotate(-90 112.30 413.60)">CD235a</text>
<text x="149.60" y="455.70" font-size="8.64" text-anchor="middle" font-weight="normal" fill="#1a1a1a" stroke="#1a1a1a" stroke-width="0.1" transform="matrix(0.92593,0,0,1,11.081,0)">Ter119</text>
<text x="149.60" y="471.20" font-size="8.37" text-anchor="middle" font-weight="normal" fill="#1a1a1a" stroke="#1a1a1a" stroke-width="0.1" transform="matrix(0.92593,0,0,1,11.081,0)">HSC-matched</text>
<path d="M133.2,390.5 C135.5,390.2 136.8,391.2 136.6,393 C136.4,396 135.6,399 134.6,402 C134.2,405 134.0,409 133.6,412 C133.2,413.6 132.2,414.2 131.6,413.4 C130.6,411 130.3,406 130.1,402 C129.9,398 130.4,394 131.5,391.6 C132,390.9 132.6,390.6 133.2,390.5 Z" fill="#1e1478" fill-opacity="1.0" stroke="none" stroke-width="0"/>
<path d="M133.4,391.8 C134.9,391.8 135.5,392.8 135.2,394.5 C134.8,397 134.2,399.5 133.4,401.5 C132.8,402.5 131.9,402 131.6,400.5 C131.3,398 131.6,395 132.1,393 C132.4,392.2 132.9,391.8 133.4,391.8 Z" fill="#2f4ec0" fill-opacity="1.0" stroke="none" stroke-width="0"/>
<ellipse cx="133.00" cy="396.50" rx="0.90" ry="2.90" fill="#78b8f0" fill-opacity="1" transform="rotate(6 133.00 396.50)"/>
<circle cx="138.30" cy="394.50" r="0.5" fill="#1e1478"/>
<path d="M130.4,430.6 C130.8,428.6 132.5,428.5 134,429.2 C140,429.0 150,429.0 158,428.5 C165,427.0 172,426.6 178,426.9 C181,427.3 182,429.2 181.8,430.8 C181.8,432.8 180,434.2 176,434.2 C168,434.3 160,433.0 150,432.4 C142,432.2 136,432.2 133.5,432.3 C131.5,433.2 130.2,432.5 130.4,430.6 Z" fill="#1e1478" fill-opacity="1.0" stroke="none" stroke-width="0"/>
<path d="M150,430.7 C156,430.0 162,428.8 168,428.3 C173,428.0 177.5,428.2 179.5,429.6 C180.4,430.8 179.6,432.3 177,432.9 C171,433.3 164,432.8 158,432.0 C154,431.6 151,431.3 150,430.7 Z" fill="#2c2a9e" fill-opacity="1.0" stroke="none" stroke-width="0"/>
<ellipse cx="168.50" cy="430.70" rx="8.20" ry="2.00" fill="#3a5ad0" fill-opacity="1.0" transform="rotate(0 168.50 430.70)"/>
<ellipse cx="168.30" cy="430.70" rx="6.80" ry="1.60" fill="#5fb0ea" fill-opacity="1.0" transform="rotate(0 168.30 430.70)"/>
<ellipse cx="168.20" cy="430.70" rx="5.60" ry="1.40" fill="#4fd0c8" fill-opacity="1.0" transform="rotate(0 168.20 430.70)"/>
<ellipse cx="168.80" cy="430.70" rx="4.40" ry="1.25" fill="#7cc850" fill-opacity="1.0" transform="rotate(0 168.80 430.70)"/>
<ellipse cx="169.60" cy="430.70" rx="3.00" ry="1.10" fill="#e8d840" fill-opacity="1.0" transform="rotate(0 169.60 430.70)"/>
<ellipse cx="169.80" cy="430.70" rx="1.80" ry="0.90" fill="#e86a20" fill-opacity="1.0" transform="rotate(0 169.80 430.70)"/>
<circle cx="169.50" cy="397.50" r="0.6" fill="#2a2870"/>
<circle cx="167.50" cy="400.00" r="0.6" fill="#2a2870"/>
<circle cx="171.00" cy="401.50" r="0.6" fill="#2a2870"/>
<circle cx="174.90" cy="405.00" r="0.6" fill="#2a2870"/>
<circle cx="168.50" cy="405.00" r="0.6" fill="#2a2870"/>
<circle cx="170.50" cy="408.50" r="0.6" fill="#2a2870"/>
<circle cx="173.50" cy="408.00" r="0.6" fill="#2a2870"/>
<circle cx="169.50" cy="417.50" r="0.6" fill="#2a2870"/>
<circle cx="168.50" cy="420.50" r="0.6" fill="#2a2870"/>
<circle cx="170.00" cy="423.50" r="0.6" fill="#2a2870"/>
<circle cx="172.00" cy="425.00" r="0.6" fill="#2a2870"/>
<circle cx="175.00" cy="426.00" r="0.6" fill="#2a2870"/>
<circle cx="166.00" cy="426.00" r="0.6" fill="#2a2870"/>
<circle cx="150.70" cy="400.20" r="0.6" fill="#2a2870"/>
<circle cx="143.30" cy="398.20" r="0.6" fill="#2a2870"/>
<circle cx="137.20" cy="422.40" r="0.6" fill="#2a2870"/>
<circle cx="149.30" cy="427.10" r="0.6" fill="#2a2870"/>
<circle cx="134.50" cy="427.10" r="0.6" fill="#2a2870"/>
<circle cx="177.00" cy="425.50" r="0.6" fill="#2a2870"/>
<circle cx="162.00" cy="426.50" r="0.6" fill="#2a2870"/>
<circle cx="140.00" cy="428.00" r="0.6" fill="#2a2870"/>
<circle cx="145.00" cy="427.50" r="0.6" fill="#2a2870"/>
<circle cx="173.00" cy="424.50" r="0.6" fill="#2a2870"/>
<circle cx="176.00" cy="424.00" r="0.6" fill="#2a2870"/>
<circle cx="164.00" cy="427.00" r="0.6" fill="#2a2870"/>
<circle cx="169.31" cy="425.45" r="0.55" fill="#2a1a90"/>
<circle cx="176.05" cy="425.06" r="0.55" fill="#3a2aa0"/>
<circle cx="170.12" cy="425.15" r="0.55" fill="#2a1a90"/>
<circle cx="161.53" cy="425.63" r="0.55" fill="#b04080"/>
<circle cx="166.86" cy="425.84" r="0.55" fill="#2a1a90"/>
<circle cx="172.67" cy="425.81" r="0.55" fill="#3a2aa0"/>
<circle cx="178.41" cy="424.95" r="0.55" fill="#3a2aa0"/>
<circle cx="173.62" cy="426.30" r="0.55" fill="#b04080"/>
<circle cx="153.93" cy="427.40" r="0.55" fill="#2a1a90"/>
<circle cx="156.49" cy="426.93" r="0.55" fill="#3a2aa0"/>
<circle cx="177.04" cy="425.78" r="0.55" fill="#3a2aa0"/>
<circle cx="166.72" cy="425.68" r="0.55" fill="#3a2aa0"/>
<circle cx="155.63" cy="425.77" r="0.55" fill="#3a2aa0"/>
<circle cx="179.96" cy="424.67" r="0.55" fill="#6a3aa0"/>
<circle cx="150.67" cy="426.90" r="0.55" fill="#3a2aa0"/>
<circle cx="158.18" cy="426.66" r="0.55" fill="#2a1a90"/>
<circle cx="168.48" cy="425.54" r="0.55" fill="#2a1a90"/>
<circle cx="159.61" cy="425.81" r="0.55" fill="#b04080"/>
<circle cx="171.59" cy="426.22" r="0.55" fill="#b04080"/>
<circle cx="171.84" cy="426.42" r="0.55" fill="#2a1a90"/>
<circle cx="179.43" cy="425.56" r="0.55" fill="#b04080"/>
<circle cx="150.56" cy="426.31" r="0.55" fill="#6a3aa0"/>
<circle cx="161.67" cy="425.67" r="0.55" fill="#b04080"/>
<circle cx="151.45" cy="427.24" r="0.55" fill="#3a2aa0"/>
<circle cx="153.69" cy="427.02" r="0.55" fill="#b04080"/>
<circle cx="160.68" cy="426.50" r="0.55" fill="#6a3aa0"/>
<circle cx="175.84" cy="434.11" r="0.5" fill="#2a1a90"/>
<circle cx="175.21" cy="434.80" r="0.5" fill="#2a1a90"/>
<circle cx="177.77" cy="434.04" r="0.5" fill="#2a1a90"/>
<circle cx="179.75" cy="434.09" r="0.5" fill="#2a1a90"/>
<circle cx="165.84" cy="434.61" r="0.5" fill="#2a1a90"/>
<circle cx="179.12" cy="434.34" r="0.5" fill="#2a1a90"/>
<circle cx="179.26" cy="434.55" r="0.5" fill="#2a1a90"/>
<circle cx="165.19" cy="434.32" r="0.5" fill="#2a1a90"/>
<circle cx="162.08" cy="434.08" r="0.5" fill="#2a1a90"/>
<circle cx="161.42" cy="434.69" r="0.5" fill="#2a1a90"/>
<text x="14.60" y="437.10" font-size="9.60" text-anchor="middle" font-weight="bold" fill="#1a1a1a" textLength="23" lengthAdjust="spacingAndGlyphs" stroke="#111" stroke-width="0.2" transform="rotate(-90 14.60 437.10)">CD235a</text>
<line x1="12.00" y1="454.20" x2="12.00" y2="465.20" stroke="#222" stroke-width="1.0"/>
<line x1="12.00" y1="465.20" x2="23.00" y2="465.20" stroke="#222" stroke-width="1.0"/>
<path d="M12,452.0 L10.2,455.59999999999997 L13.8,455.59999999999997 Z" fill="#222" fill-opacity="1.0" stroke="none" stroke-width="0"/>
<path d="M25.6,465.2 L22,463.4 L22,467.0 Z" fill="#222" fill-opacity="1.0" stroke="none" stroke-width="0"/>
<text x="27.80" y="468.40" font-size="9.40" text-anchor="start" font-weight="bold" fill="#1a1a1a" textLength="17.2" lengthAdjust="spacingAndGlyphs" stroke="#111" stroke-width="0.2">Ter119</text>
<text x="200.60" y="353.30" font-size="9.88" text-anchor="start" font-weight="normal" fill="#1a1a1a" stroke="#1a1a1a" stroke-width="0.1" transform="matrix(0.92593,0,0,1,14.859,0)">Peripheral blood</text>
<line x1="200.60" y1="355.00" x2="267.40" y2="355.00" stroke="#444" stroke-width="0.8"/>
<text x="321.90" y="367.00" font-size="10.08" text-anchor="start" font-weight="normal" fill="#1a1a1a" stroke="#1a1a1a" stroke-width="0.1" transform="matrix(0.92593,0,0,1,23.844,0)">Human RBCs</text>
<line x1="239.70" y1="372.00" x2="239.70" y2="408.60" stroke="#151515" stroke-width="1.0"/>
<line x1="237.20" y1="374.30" x2="239.70" y2="374.30" stroke="#151515" stroke-width="1.0"/>
<text x="233.60" y="377.10" font-size="7.90" text-anchor="end" font-weight="normal" fill="#1a1a1a" stroke="#1a1a1a" stroke-width="0.1">400000</text>
<line x1="237.20" y1="386.20" x2="239.70" y2="386.20" stroke="#151515" stroke-width="1.0"/>
<text x="233.60" y="389.00" font-size="7.90" text-anchor="end" font-weight="normal" fill="#1a1a1a" stroke="#1a1a1a" stroke-width="0.1">300000</text>
<line x1="237.20" y1="397.70" x2="239.70" y2="397.70" stroke="#151515" stroke-width="1.0"/>
<text x="233.60" y="400.50" font-size="7.90" text-anchor="end" font-weight="normal" fill="#1a1a1a" stroke="#1a1a1a" stroke-width="0.1">200000</text>
<line x1="237.20" y1="408.60" x2="239.70" y2="408.60" stroke="#151515" stroke-width="1.0"/>
<text x="233.60" y="411.40" font-size="7.90" text-anchor="end" font-weight="normal" fill="#1a1a1a" stroke="#1a1a1a" stroke-width="0.1">100000</text>
<line x1="239.70" y1="415.00" x2="239.70" y2="466.20" stroke="#151515" stroke-width="1.0"/>
<line x1="237.20" y1="415.40" x2="239.70" y2="415.40" stroke="#151515" stroke-width="1.0"/>
<text x="233.60" y="418.20" font-size="7.90" text-anchor="end" font-weight="normal" fill="#1a1a1a" stroke="#1a1a1a" stroke-width="0.1">50000</text>
<line x1="237.20" y1="425.60" x2="239.70" y2="425.60" stroke="#151515" stroke-width="1.0"/>
<text x="233.60" y="428.40" font-size="7.90" text-anchor="end" font-weight="normal" fill="#1a1a1a" stroke="#1a1a1a" stroke-width="0.1">40000</text>
<line x1="237.20" y1="435.70" x2="239.70" y2="435.70" stroke="#151515" stroke-width="1.0"/>
<text x="233.60" y="438.50" font-size="7.90" text-anchor="end" font-weight="normal" fill="#1a1a1a" stroke="#1a1a1a" stroke-width="0.1">30000</text>
<line x1="237.20" y1="445.90" x2="239.70" y2="445.90" stroke="#151515" stroke-width="1.0"/>
<text x="233.60" y="448.70" font-size="7.90" text-anchor="end" font-weight="normal" fill="#1a1a1a" stroke="#1a1a1a" stroke-width="0.1">20000</text>
<line x1="237.20" y1="456.00" x2="239.70" y2="456.00" stroke="#151515" stroke-width="1.0"/>
<text x="233.60" y="458.80" font-size="7.90" text-anchor="end" font-weight="normal" fill="#1a1a1a" stroke="#1a1a1a" stroke-width="0.1">10000</text>
<line x1="237.20" y1="466.20" x2="239.70" y2="466.20" stroke="#151515" stroke-width="1.0"/>
<text x="233.60" y="469.00" font-size="7.90" text-anchor="end" font-weight="normal" fill="#1a1a1a" stroke="#1a1a1a" stroke-width="0.1">0</text>
<line x1="237.20" y1="466.00" x2="460.50" y2="466.00" stroke="#151515" stroke-width="1.25"/>
<line x1="302.00" y1="466.00" x2="302.00" y2="468.20" stroke="#151515" stroke-width="1.25"/>
<line x1="397.70" y1="466.00" x2="397.70" y2="468.20" stroke="#151515" stroke-width="1.25"/>
<text x="199.30" y="421.85" font-size="7.50" text-anchor="middle" font-weight="normal" fill="#1a1a1a" stroke="#222" stroke-width="0.18" textLength="46.7" lengthAdjust="spacingAndGlyphs" transform="rotate(-90 199.30 421.85)">hRBCs (per µL)</text>
<text x="282.90" y="483.00" font-size="8.21" text-anchor="start" font-weight="normal" fill="#1a1a1a" stroke="#1a1a1a" stroke-width="0.1" transform="matrix(0.92593,0,0,1,20.956,0)">HMOX-1<tspan font-size="6.73" dx="0.9" dy="-1.98" letter-spacing="0.75">+/+</tspan></text>
<text x="378.10" y="482.40" font-size="8.21" text-anchor="start" font-weight="normal" fill="#1a1a1a" stroke="#1a1a1a" stroke-width="0.1" transform="matrix(0.92593,0,0,1,28.007,0)">HMOX-1<tspan font-size="6.73" dx="0.9" dy="-1.98" letter-spacing="0.75">−/−</tspan></text>
<path d="M272.2,466.4 C272,464.6 272.4,462.8 273.6,462.2 C275.2,461.6 276.8,462.4 278.2,463.4 L285.5,463.6 C287,461.6 289.5,460.8 291.5,461.8 C292.8,462.4 293.4,463.2 294.2,463.8 L322.5,464.2 C324,463.2 326.5,463.0 328.2,464.0 L332.5,464.3 C334.6,464.6 335.0,467.9 333,468.3 C320,468.6 290,468.5 274,468.3 C272.8,468.1 272.3,467.4 272.2,466.4 Z" fill="#c0112e" fill-opacity="1.0" stroke="none" stroke-width="0"/>
<circle cx="274.00" cy="464.20" r="1.9" fill="#c0112e"/>
<circle cx="290.00" cy="463.60" r="1.9" fill="#c0112e"/>
<circle cx="326.00" cy="465.30" r="1.9" fill="#c0112e"/>
<circle cx="300.00" cy="465.80" r="1.9" fill="#c0112e"/>
<circle cx="310.00" cy="465.90" r="1.9" fill="#c0112e"/>
<circle cx="282.00" cy="465.70" r="1.9" fill="#c0112e"/>
<circle cx="397.70" cy="386.40" r="1.85" fill="#103a64"/>
<circle cx="397.70" cy="394.70" r="1.85" fill="#103a64"/>
<circle cx="395.80" cy="405.60" r="1.85" fill="#103a64"/>
<circle cx="399.50" cy="406.80" r="1.85" fill="#103a64"/>
<circle cx="403.30" cy="403.90" r="1.85" fill="#103a64"/>
<circle cx="397.70" cy="428.10" r="1.85" fill="#103a64"/>
<circle cx="399.50" cy="431.90" r="1.85" fill="#103a64"/>
<circle cx="395.80" cy="434.50" r="1.85" fill="#103a64"/>
<circle cx="392.80" cy="439.50" r="1.85" fill="#103a64"/>
<circle cx="395.80" cy="443.30" r="1.85" fill="#103a64"/>
<circle cx="398.50" cy="443.70" r="1.85" fill="#103a64"/>
<circle cx="400.80" cy="443.30" r="1.85" fill="#103a64"/>
<circle cx="402.90" cy="441.40" r="1.85" fill="#103a64"/>
<circle cx="392.40" cy="447.90" r="1.85" fill="#103a64"/>
<circle cx="395.80" cy="450.20" r="1.85" fill="#103a64"/>
<circle cx="399.70" cy="451.00" r="1.85" fill="#103a64"/>
<circle cx="381.80" cy="450.60" r="1.85" fill="#103a64"/>
<circle cx="406.20" cy="449.50" r="1.85" fill="#103a64"/>
<circle cx="378.20" cy="454.50" r="1.85" fill="#103a64"/>
<circle cx="380.80" cy="454.80" r="1.85" fill="#103a64"/>
<circle cx="384.30" cy="455.60" r="1.85" fill="#103a64"/>
<circle cx="385.00" cy="456.80" r="1.85" fill="#103a64"/>
<circle cx="388.90" cy="454.10" r="1.85" fill="#103a64"/>
<circle cx="392.40" cy="456.40" r="1.85" fill="#103a64"/>
<circle cx="395.80" cy="455.20" r="1.85" fill="#103a64"/>
<circle cx="399.30" cy="457.20" r="1.85" fill="#103a64"/>
<circle cx="402.70" cy="454.50" r="1.85" fill="#103a64"/>
<circle cx="406.20" cy="455.20" r="1.85" fill="#103a64"/>
<circle cx="409.60" cy="454.80" r="1.85" fill="#103a64"/>
<circle cx="413.50" cy="455.20" r="1.85" fill="#103a64"/>
<circle cx="406.50" cy="459.00" r="1.85" fill="#103a64"/>
<circle cx="410.40" cy="459.50" r="1.85" fill="#103a64"/>
<circle cx="413.80" cy="458.70" r="1.85" fill="#103a64"/>
<circle cx="417.30" cy="459.00" r="1.85" fill="#103a64"/>
<circle cx="371.20" cy="461.40" r="1.85" fill="#103a64"/>
<circle cx="374.70" cy="462.20" r="1.85" fill="#103a64"/>
<circle cx="378.20" cy="461.80" r="1.85" fill="#103a64"/>
<circle cx="381.60" cy="461.00" r="1.85" fill="#103a64"/>
<circle cx="385.00" cy="462.50" r="1.85" fill="#103a64"/>
<circle cx="388.50" cy="464.30" r="1.85" fill="#103a64"/>
<circle cx="392.40" cy="462.90" r="1.85" fill="#103a64"/>
<circle cx="395.80" cy="461.40" r="1.85" fill="#103a64"/>
<circle cx="399.30" cy="462.90" r="1.85" fill="#103a64"/>
<circle cx="402.70" cy="462.20" r="1.85" fill="#103a64"/>
<circle cx="406.50" cy="462.90" r="1.85" fill="#103a64"/>
<circle cx="410.40" cy="462.90" r="1.85" fill="#103a64"/>
<circle cx="414.20" cy="462.20" r="1.85" fill="#103a64"/>
<circle cx="418.00" cy="462.50" r="1.85" fill="#103a64"/>
<circle cx="421.20" cy="461.40" r="1.85" fill="#103a64"/>
<circle cx="424.20" cy="462.50" r="1.85" fill="#103a64"/>
<circle cx="427.30" cy="463.30" r="1.85" fill="#103a64"/>
<circle cx="367.80" cy="464.30" r="1.85" fill="#103a64"/>
<circle cx="381.60" cy="464.80" r="1.85" fill="#103a64"/>
<circle cx="395.80" cy="464.50" r="1.85" fill="#103a64"/>
<circle cx="413.50" cy="464.80" r="1.85" fill="#103a64"/>
<circle cx="376.00" cy="464.80" r="1.85" fill="#103a64"/>
<circle cx="404.00" cy="464.80" r="1.85" fill="#103a64"/>
<circle cx="421.00" cy="464.60" r="1.85" fill="#103a64"/>
<line x1="366.00" y1="456.10" x2="429.30" y2="456.10" stroke="#4a4a4a" stroke-width="1.15"/>
<text x="438.00" y="461.90" font-size="8.15" text-anchor="start" font-weight="normal" fill="#1a1a1a" stroke="#1a1a1a" stroke-width="0.1" transform="matrix(0.92593,0,0,1,32.444,0)"><tspan font-style="italic">P</tspan> &lt; .0001</text>
<text x="7.00" y="509.60" font-size="11.20" text-anchor="start" font-weight="bold" fill="#000" stroke="#000" stroke-width="0.35">F</text>
<text x="45.50" y="537.70" font-size="8.10" text-anchor="start" font-weight="normal" fill="#1a1a1a" stroke="#1a1a1a" stroke-width="0.1" transform="matrix(0.92593,0,0,1,3.370,0)">HMOX-1<tspan font-size="6.64" dx="0.9" dy="-1.95" letter-spacing="0.75">+/+</tspan></text>
<rect x="32.00" y="541.90" width="67.80" height="68.40" fill="none" stroke="#7a7a7a" stroke-width="1.0"/>
<rect x="40.50" y="544.90" width="18.00" height="30.30" fill="none" stroke="#7a7a7a" stroke-width="1.0"/>
<text x="73.30" y="552.20" font-size="7.02" text-anchor="middle" font-weight="normal" fill="#1a1a1a" stroke="#1a1a1a" stroke-width="0.1" transform="matrix(0.92593,0,0,1,5.430,0)">hRBCs</text>
<text x="73.00" y="559.60" font-size="7.02" text-anchor="middle" font-weight="normal" fill="#1a1a1a" stroke="#1a1a1a" stroke-width="0.1" transform="matrix(0.92593,0,0,1,5.407,0)">3.92</text>
<text x="28.40" y="576.00" font-size="8.20" text-anchor="middle" font-weight="normal" fill="#1a1a1a" stroke="#1a1a1a" stroke-width="0.1" transform="rotate(-90 28.40 576.00)">CD235a</text>
<text x="65.60" y="619.10" font-size="8.64" text-anchor="middle" font-weight="normal" fill="#1a1a1a" stroke="#1a1a1a" stroke-width="0.1" transform="matrix(0.92593,0,0,1,4.859,0)">Ter119</text>
<path d="M43.0,546 C46,545.5 51,545.5 53.0,546.5 C52.5,553 50.5,561 48.8,570 C48.3,580 47.9,590 47.7,597 C47,597 46.6,590 46.2,580 C45.5,570 44.2,560 43.0,552 Z" fill="#9a96d8" fill-opacity="0.26" filter="url(#blur1)"/>
<path d="M45.6,555 C46.6,554.5 48,555 48,557 C47.8,562 47.5,567 47.3,571 C46.8,572 46,571 45.8,568 C45.5,564 45.3,558 45.6,555 Z" fill="#4e42a8" fill-opacity="0.55" filter="url(#blur1)"/>
<circle cx="43.00" cy="568.62" r="0.5" fill="#5a50b0" fill-opacity="0.35"/>
<circle cx="45.30" cy="569.28" r="0.5" fill="#5a50b0" fill-opacity="0.35"/>
<circle cx="45.82" cy="571.39" r="0.5" fill="#5a50b0" fill-opacity="0.35"/>
<circle cx="46.20" cy="571.60" r="0.5" fill="#5a50b0" fill-opacity="0.35"/>
<circle cx="46.89" cy="577.49" r="0.5" fill="#5a50b0" fill-opacity="0.35"/>
<circle cx="46.03" cy="561.17" r="0.5" fill="#5a50b0" fill-opacity="0.35"/>
<circle cx="47.81" cy="550.53" r="0.5" fill="#5a50b0" fill-opacity="0.35"/>
<circle cx="44.22" cy="548.09" r="0.5" fill="#5a50b0" fill-opacity="0.35"/>
<circle cx="47.94" cy="595.11" r="0.5" fill="#5a50b0" fill-opacity="0.35"/>
<circle cx="46.54" cy="576.78" r="0.5" fill="#5a50b0" fill-opacity="0.35"/>
<circle cx="49.00" cy="553.87" r="0.5" fill="#5a50b0" fill-opacity="0.35"/>
<circle cx="47.01" cy="548.98" r="0.5" fill="#5a50b0" fill-opacity="0.35"/>
<circle cx="46.82" cy="555.51" r="0.5" fill="#5a50b0" fill-opacity="0.35"/>
<circle cx="47.24" cy="569.20" r="0.5" fill="#5a50b0" fill-opacity="0.35"/>
<circle cx="48.00" cy="568.03" r="0.5" fill="#5a50b0" fill-opacity="0.35"/>
<circle cx="45.99" cy="578.01" r="0.5" fill="#5a50b0" fill-opacity="0.35"/>
<circle cx="45.76" cy="570.99" r="0.5" fill="#5a50b0" fill-opacity="0.35"/>
<circle cx="45.10" cy="559.91" r="0.5" fill="#5a50b0" fill-opacity="0.35"/>
<circle cx="48.33" cy="595.88" r="0.5" fill="#5a50b0" fill-opacity="0.35"/>
<circle cx="46.76" cy="581.39" r="0.5" fill="#5a50b0" fill-opacity="0.35"/>
<circle cx="46.99" cy="561.76" r="0.5" fill="#5a50b0" fill-opacity="0.35"/>
<circle cx="48.27" cy="549.51" r="0.5" fill="#5a50b0" fill-opacity="0.35"/>
<circle cx="45.54" cy="584.31" r="0.5" fill="#5a50b0" fill-opacity="0.35"/>
<circle cx="48.84" cy="565.33" r="0.5" fill="#5a50b0" fill-opacity="0.35"/>
<circle cx="46.82" cy="593.90" r="0.5" fill="#5a50b0" fill-opacity="0.35"/>
<circle cx="46.75" cy="556.49" r="0.5" fill="#5a50b0" fill-opacity="0.35"/>
<circle cx="44.60" cy="591.51" r="0.5" fill="#5a50b0" fill-opacity="0.35"/>
<circle cx="47.75" cy="565.87" r="0.5" fill="#5a50b0" fill-opacity="0.35"/>
<circle cx="44.65" cy="549.65" r="0.5" fill="#5a50b0" fill-opacity="0.35"/>
<circle cx="44.53" cy="559.49" r="0.5" fill="#5a50b0" fill-opacity="0.35"/>
<circle cx="44.50" cy="550.36" r="0.5" fill="#5a50b0" fill-opacity="0.35"/>
<circle cx="48.59" cy="583.90" r="0.5" fill="#5a50b0" fill-opacity="0.35"/>
<circle cx="46.82" cy="551.90" r="0.5" fill="#5a50b0" fill-opacity="0.35"/>
<circle cx="47.63" cy="548.99" r="0.5" fill="#5a50b0" fill-opacity="0.35"/>
<circle cx="47.25" cy="585.85" r="0.5" fill="#5a50b0" fill-opacity="0.35"/>
<circle cx="48.87" cy="568.37" r="0.5" fill="#5a50b0" fill-opacity="0.35"/>
<circle cx="46.69" cy="555.53" r="0.5" fill="#5a50b0" fill-opacity="0.35"/>
<circle cx="46.38" cy="578.19" r="0.5" fill="#5a50b0" fill-opacity="0.35"/>
<circle cx="45.71" cy="551.83" r="0.5" fill="#5a50b0" fill-opacity="0.35"/>
<circle cx="47.39" cy="559.49" r="0.5" fill="#5a50b0" fill-opacity="0.35"/>
<circle cx="47.02" cy="594.55" r="0.5" fill="#5a50b0" fill-opacity="0.35"/>
<circle cx="46.16" cy="590.24" r="0.5" fill="#5a50b0" fill-opacity="0.35"/>
<circle cx="44.02" cy="556.54" r="0.5" fill="#5a50b0" fill-opacity="0.35"/>
<circle cx="47.77" cy="578.09" r="0.5" fill="#5a50b0" fill-opacity="0.35"/>
<circle cx="48.04" cy="551.02" r="0.5" fill="#5a50b0" fill-opacity="0.35"/>
<circle cx="46.72" cy="558.91" r="0.5" fill="#5a50b0" fill-opacity="0.35"/>
<circle cx="46.48" cy="584.63" r="0.5" fill="#5a50b0" fill-opacity="0.35"/>
<circle cx="48.13" cy="549.67" r="0.5" fill="#5a50b0" fill-opacity="0.35"/>
<circle cx="45.63" cy="550.51" r="0.5" fill="#5a50b0" fill-opacity="0.35"/>
<circle cx="46.50" cy="576.06" r="0.5" fill="#5a50b0" fill-opacity="0.35"/>
<circle cx="42.44" cy="564.59" r="0.5" fill="#5a50b0" fill-opacity="0.35"/>
<circle cx="48.12" cy="570.19" r="0.5" fill="#5a50b0" fill-opacity="0.35"/>
<circle cx="47.56" cy="574.73" r="0.5" fill="#5a50b0" fill-opacity="0.35"/>
<circle cx="45.95" cy="553.71" r="0.5" fill="#5a50b0" fill-opacity="0.35"/>
<circle cx="47.05" cy="591.42" r="0.5" fill="#5a50b0" fill-opacity="0.35"/>
<circle cx="45.56" cy="555.49" r="0.5" fill="#5a50b0" fill-opacity="0.35"/>
<circle cx="47.29" cy="582.97" r="0.5" fill="#5a50b0" fill-opacity="0.35"/>
<circle cx="46.61" cy="593.51" r="0.5" fill="#5a50b0" fill-opacity="0.35"/>
<circle cx="46.13" cy="590.11" r="0.5" fill="#5a50b0" fill-opacity="0.35"/>
<circle cx="45.66" cy="551.19" r="0.5" fill="#5a50b0" fill-opacity="0.35"/>
<circle cx="70.97" cy="595.81" r="0.5" fill="#9088cc" fill-opacity="0.25"/>
<circle cx="75.96" cy="587.55" r="0.5" fill="#9088cc" fill-opacity="0.25"/>
<circle cx="76.42" cy="591.36" r="0.5" fill="#9088cc" fill-opacity="0.25"/>
<circle cx="84.91" cy="574.39" r="0.5" fill="#9088cc" fill-opacity="0.25"/>
<circle cx="74.39" cy="588.05" r="0.5" fill="#9088cc" fill-opacity="0.25"/>
<circle cx="71.72" cy="572.31" r="0.5" fill="#9088cc" fill-opacity="0.25"/>
<circle cx="83.98" cy="592.28" r="0.5" fill="#9088cc" fill-opacity="0.25"/>
<circle cx="85.36" cy="573.97" r="0.5" fill="#9088cc" fill-opacity="0.25"/>
<circle cx="92.93" cy="571.53" r="0.5" fill="#9088cc" fill-opacity="0.25"/>
<circle cx="70.41" cy="573.61" r="0.5" fill="#9088cc" fill-opacity="0.25"/>
<circle cx="81.14" cy="566.93" r="0.5" fill="#9088cc" fill-opacity="0.25"/>
<circle cx="74.41" cy="576.80" r="0.5" fill="#9088cc" fill-opacity="0.25"/>
<circle cx="84.30" cy="569.21" r="0.5" fill="#9088cc" fill-opacity="0.25"/>
<circle cx="79.05" cy="593.51" r="0.5" fill="#9088cc" fill-opacity="0.25"/>
<circle cx="94.51" cy="586.02" r="0.5" fill="#9088cc" fill-opacity="0.25"/>
<circle cx="87.28" cy="583.70" r="0.5" fill="#9088cc" fill-opacity="0.25"/>
<circle cx="73.51" cy="566.12" r="0.5" fill="#9088cc" fill-opacity="0.25"/>
<circle cx="70.45" cy="594.13" r="0.5" fill="#9088cc" fill-opacity="0.25"/>
<circle cx="87.52" cy="595.81" r="0.5" fill="#9088cc" fill-opacity="0.25"/>
<circle cx="70.53" cy="585.36" r="0.5" fill="#9088cc" fill-opacity="0.25"/>
<circle cx="82.06" cy="588.38" r="0.5" fill="#9088cc" fill-opacity="0.25"/>
<circle cx="77.97" cy="596.98" r="0.5" fill="#9088cc" fill-opacity="0.25"/>
<circle cx="71.88" cy="582.48" r="0.5" fill="#9088cc" fill-opacity="0.25"/>
<circle cx="88.43" cy="593.81" r="0.5" fill="#9088cc" fill-opacity="0.25"/>
<circle cx="88.43" cy="587.52" r="0.5" fill="#9088cc" fill-opacity="0.25"/>
<circle cx="89.83" cy="594.28" r="0.5" fill="#9088cc" fill-opacity="0.25"/>
<circle cx="78.80" cy="586.92" r="0.5" fill="#9088cc" fill-opacity="0.25"/>
<circle cx="92.52" cy="592.88" r="0.5" fill="#9088cc" fill-opacity="0.25"/>
<circle cx="80.43" cy="590.30" r="0.5" fill="#9088cc" fill-opacity="0.25"/>
<circle cx="91.59" cy="583.33" r="0.5" fill="#9088cc" fill-opacity="0.25"/>
<path d="M53,600.0 L78,599.9 L78,601.3000000000001 L53,601.2 Z" fill="#7068b8" fill-opacity="0.75"/>
<path d="M45,600.6 C45,598.0 47,597.2 49.5,597.6 C51.5,598.0 53,599.4 55,600.0 L55,601.2 C53,602.0 51.5,603.6 49.5,604.0 C47,604.2 45,603.2 45,600.6 Z" fill="#1e1478" fill-opacity="1.0" stroke="none" stroke-width="0"/>
<ellipse cx="49.00" cy="600.60" rx="3.20" ry="2.30" fill="#3a4ab8" fill-opacity="1.0" transform="rotate(0 49.00 600.60)"/>
<ellipse cx="48.80" cy="600.60" rx="2.30" ry="1.70" fill="#58a868" fill-opacity="1.0" transform="rotate(0 48.80 600.60)"/>
<ellipse cx="48.60" cy="600.60" rx="1.40" ry="1.00" fill="#b0c840" fill-opacity="1.0" transform="rotate(0 48.60 600.60)"/>
<path d="M76.5,600.6 C78,599.4 80,596.8000000000001 84,596.4 C88.5,596.2 92,597.6 92,600.6 C92,603.6 88.5,604.6 84,604.4 C80,604.2 78,601.8000000000001 76.5,600.6 Z" fill="#1e1478" fill-opacity="1.0" stroke="none" stroke-width="0"/>
<ellipse cx="84.60" cy="600.50" rx="6.00" ry="3.20" fill="#2c2a9e" fill-opacity="1.0" transform="rotate(0 84.60 600.50)"/>
<ellipse cx="84.40" cy="600.50" rx="4.80" ry="2.60" fill="#3c7ad8" fill-opacity="1.0" transform="rotate(0 84.40 600.50)"/>
<ellipse cx="84.40" cy="600.50" rx="3.80" ry="2.00" fill="#4fd0c8" fill-opacity="1.0" transform="rotate(0 84.40 600.50)"/>
<ellipse cx="84.40" cy="600.50" rx="2.60" ry="1.50" fill="#48b868" fill-opacity="1.0" transform="rotate(0 84.40 600.50)"/>
<ellipse cx="84.40" cy="600.50" rx="1.20" ry="0.80" fill="#88c850" fill-opacity="1.0" transform="rotate(0 84.40 600.50)"/>
<text x="130.80" y="537.70" font-size="8.10" text-anchor="start" font-weight="normal" fill="#1a1a1a" stroke="#1a1a1a" stroke-width="0.1" transform="matrix(0.92593,0,0,1,9.689,0)">HMOX-1<tspan font-size="6.64" dx="0.9" dy="-1.95" letter-spacing="0.75">−/−</tspan></text>
<rect x="117.00" y="541.90" width="67.80" height="68.40" fill="none" stroke="#7a7a7a" stroke-width="1.0"/>
<rect x="125.50" y="544.90" width="18.00" height="30.30" fill="none" stroke="#7a7a7a" stroke-width="1.0"/>
<text x="158.30" y="552.20" font-size="7.02" text-anchor="middle" font-weight="normal" fill="#1a1a1a" stroke="#1a1a1a" stroke-width="0.1" transform="matrix(0.92593,0,0,1,11.726,0)">hRBCs</text>
<text x="158.00" y="559.60" font-size="7.02" text-anchor="middle" font-weight="normal" fill="#1a1a1a" stroke="#1a1a1a" stroke-width="0.1" transform="matrix(0.92593,0,0,1,11.704,0)">4.66</text>
<text x="113.40" y="576.00" font-size="8.20" text-anchor="middle" font-weight="normal" fill="#1a1a1a" stroke="#1a1a1a" stroke-width="0.1" transform="rotate(-90 113.40 576.00)">CD235a</text>
<text x="150.60" y="619.10" font-size="8.64" text-anchor="middle" font-weight="normal" fill="#1a1a1a" stroke="#1a1a1a" stroke-width="0.1" transform="matrix(0.92593,0,0,1,11.156,0)">Ter119</text>
<path d="M128,546 C131,545.5 139,545.5 141,546.5 C140,551 137.5,555 135.8,560 C134.8,566 134.3,580 133.6,597 C132.8,597 132.4,585 131.6,575 C130.8,568 129.5,556 128,550 Z" fill="#9a96d8" fill-opacity="0.3" filter="url(#blur1)"/>
<path d="M133.5,548 C135,547.5 137.5,547.5 138,548.5 C137.5,551 135.5,553 134.8,556 C134.2,562 133.8,568 133.5,574 C133,575 132,575 131.8,573 C131.2,566 131.2,558 131.8,553 C132.2,550 132.8,548.5 133.5,548 Z" fill="#4a3ea4" fill-opacity="0.7" filter="url(#blur1)"/>
<circle cx="132.01" cy="569.73" r="0.5" fill="#4a40a8" fill-opacity="0.4"/>
<circle cx="132.33" cy="553.13" r="0.5" fill="#4a40a8" fill-opacity="0.4"/>
<circle cx="133.80" cy="546.54" r="0.5" fill="#4a40a8" fill-opacity="0.4"/>
<circle cx="132.71" cy="586.52" r="0.5" fill="#4a40a8" fill-opacity="0.4"/>
<circle cx="131.95" cy="580.53" r="0.5" fill="#4a40a8" fill-opacity="0.4"/>
<circle cx="132.22" cy="579.07" r="0.5" fill="#4a40a8" fill-opacity="0.4"/>
<circle cx="133.42" cy="553.27" r="0.5" fill="#4a40a8" fill-opacity="0.4"/>
<circle cx="132.18" cy="591.30" r="0.5" fill="#4a40a8" fill-opacity="0.4"/>
<circle cx="134.83" cy="548.94" r="0.5" fill="#4a40a8" fill-opacity="0.4"/>
<circle cx="132.43" cy="580.35" r="0.5" fill="#4a40a8" fill-opacity="0.4"/>
<circle cx="131.19" cy="562.85" r="0.5" fill="#4a40a8" fill-opacity="0.4"/>
<circle cx="136.42" cy="546.93" r="0.5" fill="#4a40a8" fill-opacity="0.4"/>
<circle cx="136.20" cy="549.04" r="0.5" fill="#4a40a8" fill-opacity="0.4"/>
<circle cx="133.50" cy="550.55" r="0.5" fill="#4a40a8" fill-opacity="0.4"/>
<circle cx="132.10" cy="595.36" r="0.5" fill="#4a40a8" fill-opacity="0.4"/>
<circle cx="133.21" cy="567.16" r="0.5" fill="#4a40a8" fill-opacity="0.4"/>
<circle cx="133.48" cy="552.75" r="0.5" fill="#4a40a8" fill-opacity="0.4"/>
<circle cx="136.31" cy="554.18" r="0.5" fill="#4a40a8" fill-opacity="0.4"/>
<circle cx="133.06" cy="580.84" r="0.5" fill="#4a40a8" fill-opacity="0.4"/>
<circle cx="132.43" cy="586.78" r="0.5" fill="#4a40a8" fill-opacity="0.4"/>
<circle cx="131.66" cy="566.03" r="0.5" fill="#4a40a8" fill-opacity="0.4"/>
<circle cx="134.36" cy="569.84" r="0.5" fill="#4a40a8" fill-opacity="0.4"/>
<circle cx="136.11" cy="565.23" r="0.5" fill="#4a40a8" fill-opacity="0.4"/>
<circle cx="132.05" cy="594.37" r="0.5" fill="#4a40a8" fill-opacity="0.4"/>
<circle cx="131.47" cy="594.82" r="0.5" fill="#4a40a8" fill-opacity="0.4"/>
<circle cx="132.36" cy="564.16" r="0.5" fill="#4a40a8" fill-opacity="0.4"/>
<circle cx="132.51" cy="580.51" r="0.5" fill="#4a40a8" fill-opacity="0.4"/>
<circle cx="133.34" cy="557.75" r="0.5" fill="#4a40a8" fill-opacity="0.4"/>
<circle cx="130.74" cy="564.17" r="0.5" fill="#4a40a8" fill-opacity="0.4"/>
<circle cx="133.03" cy="571.00" r="0.5" fill="#4a40a8" fill-opacity="0.4"/>
<circle cx="135.40" cy="547.41" r="0.5" fill="#4a40a8" fill-opacity="0.4"/>
<circle cx="131.66" cy="571.95" r="0.5" fill="#4a40a8" fill-opacity="0.4"/>
<circle cx="132.65" cy="557.11" r="0.5" fill="#4a40a8" fill-opacity="0.4"/>
<circle cx="132.73" cy="584.60" r="0.5" fill="#4a40a8" fill-opacity="0.4"/>
<circle cx="133.48" cy="551.13" r="0.5" fill="#4a40a8" fill-opacity="0.4"/>
<circle cx="132.52" cy="580.79" r="0.5" fill="#4a40a8" fill-opacity="0.4"/>
<circle cx="134.39" cy="547.84" r="0.5" fill="#4a40a8" fill-opacity="0.4"/>
<circle cx="133.46" cy="577.85" r="0.5" fill="#4a40a8" fill-opacity="0.4"/>
<circle cx="133.52" cy="548.60" r="0.5" fill="#4a40a8" fill-opacity="0.4"/>
<circle cx="134.17" cy="560.09" r="0.5" fill="#4a40a8" fill-opacity="0.4"/>
<circle cx="135.08" cy="569.81" r="0.5" fill="#4a40a8" fill-opacity="0.4"/>
<circle cx="131.67" cy="593.79" r="0.5" fill="#4a40a8" fill-opacity="0.4"/>
<circle cx="135.59" cy="554.38" r="0.5" fill="#4a40a8" fill-opacity="0.4"/>
<circle cx="133.47" cy="555.46" r="0.5" fill="#4a40a8" fill-opacity="0.4"/>
<circle cx="132.56" cy="583.43" r="0.5" fill="#4a40a8" fill-opacity="0.4"/>
<circle cx="133.84" cy="559.41" r="0.5" fill="#4a40a8" fill-opacity="0.4"/>
<circle cx="132.14" cy="584.53" r="0.5" fill="#4a40a8" fill-opacity="0.4"/>
<circle cx="135.71" cy="546.43" r="0.5" fill="#4a40a8" fill-opacity="0.4"/>
<circle cx="131.25" cy="548.00" r="0.5" fill="#4a40a8" fill-opacity="0.4"/>
<circle cx="130.38" cy="595.92" r="0.5" fill="#4a40a8" fill-opacity="0.4"/>
<circle cx="134.63" cy="571.18" r="0.5" fill="#4a40a8" fill-opacity="0.4"/>
<circle cx="132.47" cy="585.37" r="0.5" fill="#4a40a8" fill-opacity="0.4"/>
<circle cx="131.92" cy="587.60" r="0.5" fill="#4a40a8" fill-opacity="0.4"/>
<circle cx="132.27" cy="572.36" r="0.5" fill="#4a40a8" fill-opacity="0.4"/>
<circle cx="132.44" cy="569.87" r="0.5" fill="#4a40a8" fill-opacity="0.4"/>
<circle cx="131.51" cy="593.33" r="0.5" fill="#4a40a8" fill-opacity="0.4"/>
<circle cx="132.36" cy="590.72" r="0.5" fill="#4a40a8" fill-opacity="0.4"/>
<circle cx="132.62" cy="589.66" r="0.5" fill="#4a40a8" fill-opacity="0.4"/>
<circle cx="135.71" cy="559.92" r="0.5" fill="#4a40a8" fill-opacity="0.4"/>
<circle cx="132.36" cy="580.80" r="0.5" fill="#4a40a8" fill-opacity="0.4"/>
<circle cx="132.75" cy="581.23" r="0.5" fill="#4a40a8" fill-opacity="0.4"/>
<circle cx="135.25" cy="558.75" r="0.5" fill="#4a40a8" fill-opacity="0.4"/>
<circle cx="132.56" cy="580.16" r="0.5" fill="#4a40a8" fill-opacity="0.4"/>
<circle cx="131.73" cy="590.32" r="0.5" fill="#4a40a8" fill-opacity="0.4"/>
<circle cx="133.57" cy="567.02" r="0.5" fill="#4a40a8" fill-opacity="0.4"/>
<circle cx="132.55" cy="594.97" r="0.5" fill="#4a40a8" fill-opacity="0.4"/>
<circle cx="130.51" cy="574.00" r="0.5" fill="#4a40a8" fill-opacity="0.4"/>
<circle cx="130.74" cy="594.10" r="0.5" fill="#4a40a8" fill-opacity="0.4"/>
<circle cx="131.65" cy="584.02" r="0.5" fill="#4a40a8" fill-opacity="0.4"/>
<circle cx="132.50" cy="591.05" r="0.5" fill="#4a40a8" fill-opacity="0.4"/>
<circle cx="174.73" cy="583.57" r="0.5" fill="#9088cc" fill-opacity="0.25"/>
<circle cx="163.69" cy="576.79" r="0.5" fill="#9088cc" fill-opacity="0.25"/>
<circle cx="173.40" cy="583.03" r="0.5" fill="#9088cc" fill-opacity="0.25"/>
<circle cx="155.43" cy="587.72" r="0.5" fill="#9088cc" fill-opacity="0.25"/>
<circle cx="177.60" cy="590.53" r="0.5" fill="#9088cc" fill-opacity="0.25"/>
<circle cx="177.44" cy="594.14" r="0.5" fill="#9088cc" fill-opacity="0.25"/>
<circle cx="168.37" cy="590.25" r="0.5" fill="#9088cc" fill-opacity="0.25"/>
<circle cx="164.49" cy="568.15" r="0.5" fill="#9088cc" fill-opacity="0.25"/>
<circle cx="163.83" cy="574.99" r="0.5" fill="#9088cc" fill-opacity="0.25"/>
<circle cx="178.35" cy="587.05" r="0.5" fill="#9088cc" fill-opacity="0.25"/>
<circle cx="168.54" cy="584.91" r="0.5" fill="#9088cc" fill-opacity="0.25"/>
<circle cx="158.12" cy="582.10" r="0.5" fill="#9088cc" fill-opacity="0.25"/>
<circle cx="172.52" cy="577.61" r="0.5" fill="#9088cc" fill-opacity="0.25"/>
<circle cx="161.14" cy="578.02" r="0.5" fill="#9088cc" fill-opacity="0.25"/>
<circle cx="163.09" cy="586.93" r="0.5" fill="#9088cc" fill-opacity="0.25"/>
<circle cx="158.55" cy="567.90" r="0.5" fill="#9088cc" fill-opacity="0.25"/>
<circle cx="162.81" cy="587.26" r="0.5" fill="#9088cc" fill-opacity="0.25"/>
<circle cx="173.99" cy="586.10" r="0.5" fill="#9088cc" fill-opacity="0.25"/>
<circle cx="178.37" cy="576.70" r="0.5" fill="#9088cc" fill-opacity="0.25"/>
<circle cx="155.74" cy="580.61" r="0.5" fill="#9088cc" fill-opacity="0.25"/>
<circle cx="166.09" cy="570.74" r="0.5" fill="#9088cc" fill-opacity="0.25"/>
<circle cx="171.68" cy="575.92" r="0.5" fill="#9088cc" fill-opacity="0.25"/>
<circle cx="160.96" cy="575.48" r="0.5" fill="#9088cc" fill-opacity="0.25"/>
<circle cx="178.59" cy="565.25" r="0.5" fill="#9088cc" fill-opacity="0.25"/>
<circle cx="164.01" cy="573.95" r="0.5" fill="#9088cc" fill-opacity="0.25"/>
<circle cx="160.03" cy="578.84" r="0.5" fill="#9088cc" fill-opacity="0.25"/>
<circle cx="160.51" cy="594.40" r="0.5" fill="#9088cc" fill-opacity="0.25"/>
<circle cx="167.53" cy="587.34" r="0.5" fill="#9088cc" fill-opacity="0.25"/>
<circle cx="159.06" cy="579.87" r="0.5" fill="#9088cc" fill-opacity="0.25"/>
<circle cx="170.16" cy="591.97" r="0.5" fill="#9088cc" fill-opacity="0.25"/>
<path d="M136,599.4 C145,599.5 152,599.3000000000001 161,598.6 L161,602.6 C152,601.9 145,601.7 136,601.8000000000001 Z" fill="#2f2490"/>
<path d="M138,600.2 C145,600.2 152,600.1 160,599.8000000000001 L160,601.4 C152,601.1 145,601.0 138,601.0 Z" fill="#7a70c0" fill-opacity="0.6"/>
<path d="M130.3,601.0 C130.3,598.4 132.5,597.8000000000001 135,598.2 C137,598.6 138,599.2 139,599.5 L139,601.9 C138,602.4 137,603.8000000000001 135,604.1 C132.5,604.3000000000001 130.3,603.4 130.3,601.0 Z" fill="#1e1478" fill-opacity="1.0" stroke="none" stroke-width="0"/>
<ellipse cx="134.00" cy="601.00" rx="2.80" ry="1.90" fill="#3a5ac0" fill-opacity="1.0" transform="rotate(0 134.00 601.00)"/>
<ellipse cx="133.80" cy="601.00" rx="1.60" ry="1.00" fill="#6ac0e0" fill-opacity="1.0" transform="rotate(0 133.80 601.00)"/>
<path d="M158,600.6 C161,598.4 165,595.4 170,595.2 C174.5,595.2 176.6,597.6 176.6,600.6 C176.6,603.6 174.5,605.4 170,605.4 C165,605.4 161,602.8000000000001 158,600.6 Z" fill="#1e1478" fill-opacity="1.0" stroke="none" stroke-width="0"/>
<ellipse cx="169.80" cy="600.60" rx="5.80" ry="3.90" fill="#2c2a9e" fill-opacity="1.0" transform="rotate(0 169.80 600.60)"/>
<ellipse cx="169.60" cy="600.60" rx="4.80" ry="3.10" fill="#3c6ad0" fill-opacity="1.0" transform="rotate(0 169.60 600.60)"/>
<ellipse cx="169.40" cy="600.60" rx="4.00" ry="2.50" fill="#4fd0c8" fill-opacity="1.0" transform="rotate(0 169.40 600.60)"/>
<ellipse cx="169.20" cy="600.60" rx="3.00" ry="2.00" fill="#6ac050" fill-opacity="1.0" transform="rotate(0 169.20 600.60)"/>
<ellipse cx="169.20" cy="600.60" rx="1.90" ry="1.50" fill="#e8d840" fill-opacity="1.0" transform="rotate(0 169.20 600.60)"/>
<ellipse cx="169.20" cy="600.60" rx="1.00" ry="0.90" fill="#e86a20" fill-opacity="1.0" transform="rotate(0 169.20 600.60)"/>
<text x="149.60" y="633.80" font-size="8.37" text-anchor="middle" font-weight="normal" fill="#1a1a1a" stroke="#1a1a1a" stroke-width="0.1" transform="matrix(0.92593,0,0,1,11.081,0)">HSC-matched</text>
<text x="14.60" y="603.90" font-size="9.60" text-anchor="middle" font-weight="bold" fill="#1a1a1a" textLength="23" lengthAdjust="spacingAndGlyphs" stroke="#111" stroke-width="0.2" transform="rotate(-90 14.60 603.90)">CD235a</text>
<line x1="12.00" y1="621.00" x2="12.00" y2="632.00" stroke="#222" stroke-width="1.0"/>
<line x1="12.00" y1="632.00" x2="23.00" y2="632.00" stroke="#222" stroke-width="1.0"/>
<path d="M12,618.8 L10.2,622.4 L13.8,622.4 Z" fill="#222" fill-opacity="1.0" stroke="none" stroke-width="0"/>
<path d="M25.6,632.0 L22,630.2 L22,633.8 Z" fill="#222" fill-opacity="1.0" stroke="none" stroke-width="0"/>
<text x="27.80" y="635.20" font-size="9.40" text-anchor="start" font-weight="bold" fill="#1a1a1a" textLength="17.2" lengthAdjust="spacingAndGlyphs" stroke="#111" stroke-width="0.2">Ter119</text>
<text x="190.00" y="510.00" font-size="9.83" text-anchor="start" font-weight="normal" fill="#1a1a1a" stroke="#1a1a1a" stroke-width="0.1" transform="matrix(0.92593,0,0,1,14.074,0)">Bone marrow</text>
<line x1="190.00" y1="511.70" x2="244.20" y2="511.70" stroke="#444" stroke-width="0.8"/>
<text x="296.90" y="523.70" font-size="10.09" text-anchor="start" font-weight="normal" fill="#1a1a1a" stroke="#1a1a1a" stroke-width="0.1" transform="matrix(0.92593,0,0,1,21.993,0)">Human RBCs</text>
<line x1="223.80" y1="528.20" x2="223.80" y2="628.10" stroke="#151515" stroke-width="1.25"/>
<line x1="221.00" y1="628.10" x2="223.80" y2="628.10" stroke="#151515" stroke-width="1.25"/>
<text x="218.30" y="630.98" font-size="8.00" text-anchor="end" font-weight="normal" fill="#1a1a1a" stroke="#1a1a1a" stroke-width="0.1">0.0</text>
<line x1="221.00" y1="615.99" x2="223.80" y2="615.99" stroke="#151515" stroke-width="1.25"/>
<text x="218.30" y="618.87" font-size="8.00" text-anchor="end" font-weight="normal" fill="#1a1a1a" stroke="#1a1a1a" stroke-width="0.1">0.1</text>
<line x1="221.00" y1="603.88" x2="223.80" y2="603.88" stroke="#151515" stroke-width="1.25"/>
<text x="218.30" y="606.75" font-size="8.00" text-anchor="end" font-weight="normal" fill="#1a1a1a" stroke="#1a1a1a" stroke-width="0.1">0.2</text>
<line x1="221.00" y1="591.76" x2="223.80" y2="591.76" stroke="#151515" stroke-width="1.25"/>
<text x="218.30" y="594.64" font-size="8.00" text-anchor="end" font-weight="normal" fill="#1a1a1a" stroke="#1a1a1a" stroke-width="0.1">0.3</text>
<line x1="221.00" y1="579.65" x2="223.80" y2="579.65" stroke="#151515" stroke-width="1.25"/>
<text x="218.30" y="582.53" font-size="8.00" text-anchor="end" font-weight="normal" fill="#1a1a1a" stroke="#1a1a1a" stroke-width="0.1">0.4</text>
<line x1="221.00" y1="567.54" x2="223.80" y2="567.54" stroke="#151515" stroke-width="1.25"/>
<text x="218.30" y="570.42" font-size="8.00" text-anchor="end" font-weight="normal" fill="#1a1a1a" stroke="#1a1a1a" stroke-width="0.1">0.5</text>
<line x1="221.00" y1="555.43" x2="223.80" y2="555.43" stroke="#151515" stroke-width="1.25"/>
<text x="218.30" y="558.31" font-size="8.00" text-anchor="end" font-weight="normal" fill="#1a1a1a" stroke="#1a1a1a" stroke-width="0.1">0.6</text>
<line x1="221.00" y1="543.31" x2="223.80" y2="543.31" stroke="#151515" stroke-width="1.25"/>
<text x="218.30" y="546.19" font-size="8.00" text-anchor="end" font-weight="normal" fill="#1a1a1a" stroke="#1a1a1a" stroke-width="0.1">0.7</text>
<line x1="221.00" y1="531.20" x2="223.80" y2="531.20" stroke="#151515" stroke-width="1.25"/>
<text x="218.30" y="534.08" font-size="8.00" text-anchor="end" font-weight="normal" fill="#1a1a1a" stroke="#1a1a1a" stroke-width="0.1">0.8</text>
<line x1="221.30" y1="628.10" x2="427.10" y2="628.10" stroke="#151515" stroke-width="1.25"/>
<line x1="282.20" y1="628.10" x2="282.20" y2="630.30" stroke="#151515" stroke-width="1.25"/>
<line x1="368.60" y1="628.10" x2="368.60" y2="630.30" stroke="#151515" stroke-width="1.25"/>
<text x="200.90" y="578.60" font-size="7.80" text-anchor="middle" font-weight="normal" fill="#1a1a1a" stroke="#222" stroke-width="0.18" textLength="50.2" lengthAdjust="spacingAndGlyphs" transform="rotate(-90 200.90 578.60)">hRBCs (millions)</text>
<circle cx="282.20" cy="588.30" r="2.2" fill="#b0123a"/>
<circle cx="282.20" cy="607.70" r="2.2" fill="#b0123a"/>
<circle cx="282.20" cy="620.60" r="2.2" fill="#b0123a"/>
<line x1="252.90" y1="607.70" x2="310.80" y2="607.70" stroke="#444" stroke-width="1.2"/>
<circle cx="368.60" cy="543.70" r="2.2" fill="#103a64"/>
<circle cx="368.60" cy="550.80" r="2.2" fill="#103a64"/>
<circle cx="368.60" cy="573.80" r="2.2" fill="#103a64"/>
<line x1="340.00" y1="550.80" x2="397.50" y2="550.80" stroke="#444" stroke-width="1.2"/>
<text x="261.50" y="643.00" font-size="8.21" text-anchor="start" font-weight="normal" fill="#1a1a1a" stroke="#1a1a1a" stroke-width="0.1" transform="matrix(0.92593,0,0,1,19.370,0)">HMOX-1<tspan font-size="6.73" dx="0.9" dy="-1.98" letter-spacing="0.75">+/+</tspan></text>
<text x="348.30" y="643.00" font-size="8.21" text-anchor="start" font-weight="normal" fill="#1a1a1a" stroke="#1a1a1a" stroke-width="0.1" transform="matrix(0.92593,0,0,1,25.800,0)">HMOX-1<tspan font-size="6.73" dx="0.9" dy="-1.98" letter-spacing="0.75">−/−</tspan></text>
<text x="392.10" y="622.30" font-size="8.75" text-anchor="start" font-weight="normal" fill="#1a1a1a" stroke="#1a1a1a" stroke-width="0.1" transform="matrix(0.92593,0,0,1,29.044,0)"><tspan font-style="italic">P</tspan> = .02</text>
<rect x="0.6" y="0.6" width="518.6" height="651.6" fill="none" stroke="#4a4a4a" stroke-width="1.2"/>
</svg>
</body></html>
